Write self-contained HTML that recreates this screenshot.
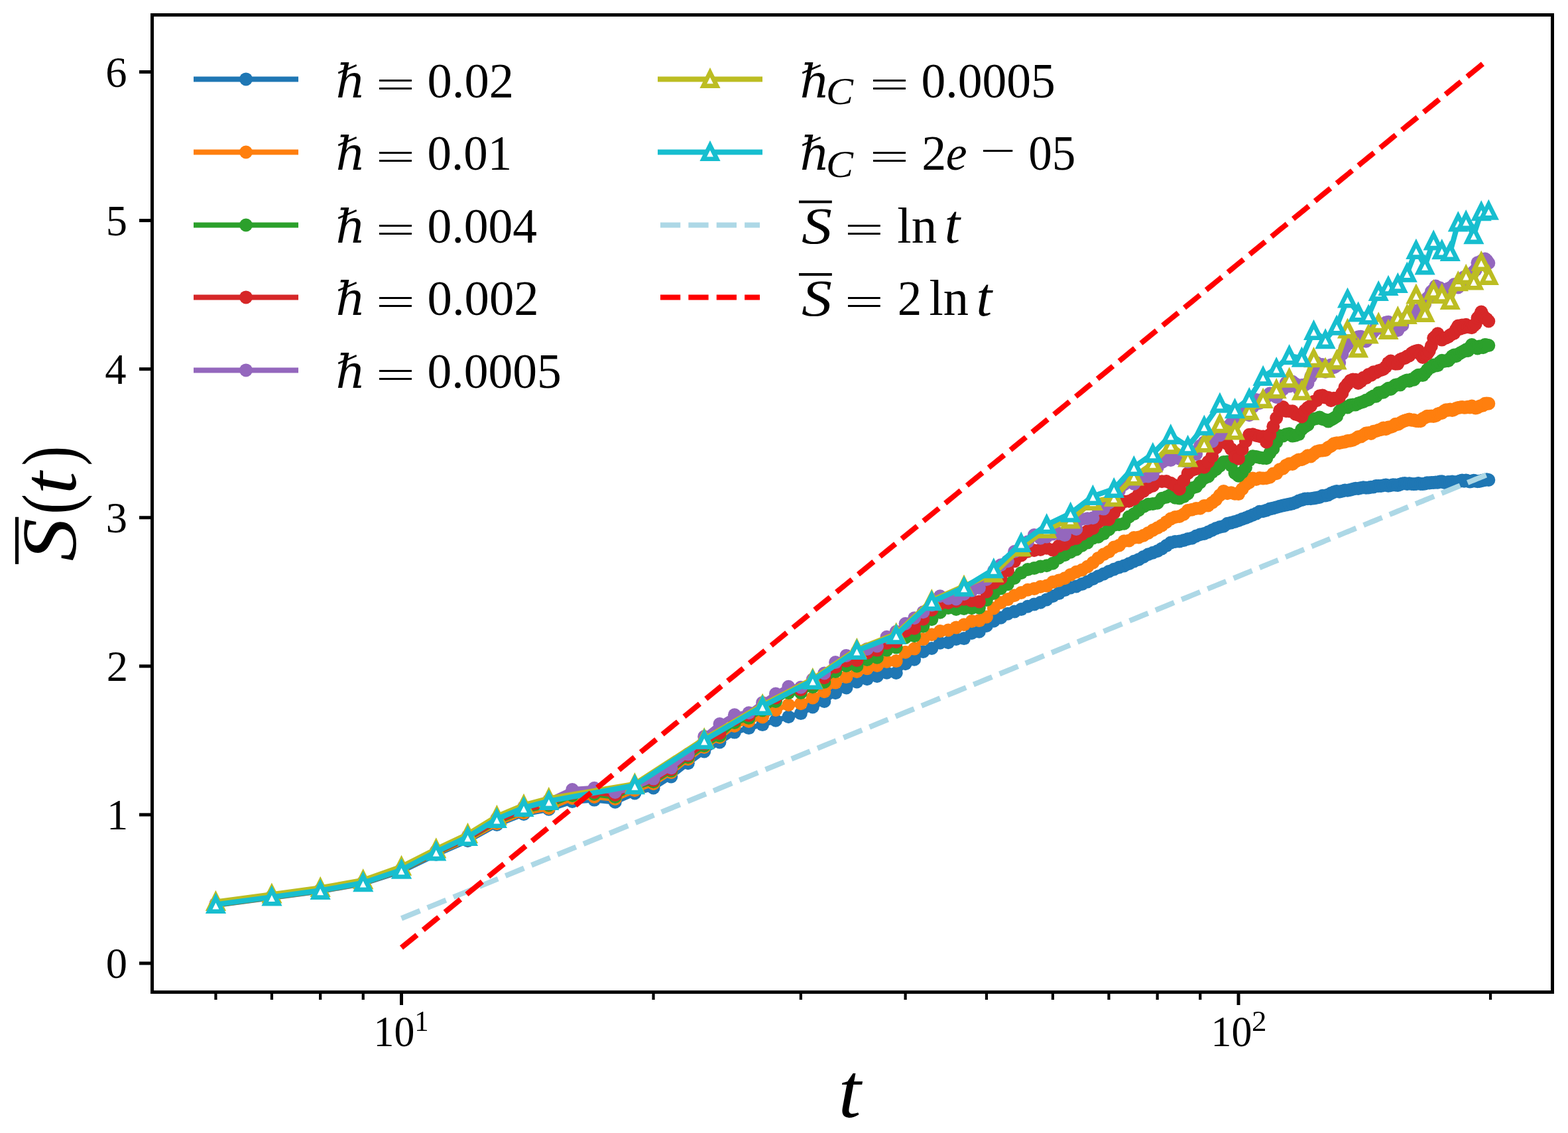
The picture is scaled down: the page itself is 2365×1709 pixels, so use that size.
<!DOCTYPE html>
<html><head><meta charset="utf-8"><title>S(t) vs t</title>
<style>html,body{margin:0;padding:0;background:#fff;width:2365px;height:1709px;overflow:hidden}svg{display:block}</style>
</head><body>
<svg width="2365" height="1709" viewBox="0 0 2365 1709">
<rect width="2365" height="1709" fill="#fff"/>
<g id="plot">
<polyline points="325.4,1365.4 409.9,1354.1 483.2,1344.3 547.7,1332.7 605.5,1314.2 657.8,1288.8 705.5,1268.2 749.4,1244.0 790.0,1227.9 827.8,1220.7 863.2,1208.9 896.4,1206.6 927.8,1209.7 957.4,1196.5 985.6,1188.4 1012.3,1171.4 1037.8,1151.3 1062.2,1133.5 1085.5,1119.4 1107.9,1104.6 1129.4,1098.1 1150.1,1093.1 1170.0,1086.8 1189.3,1081.2 1207.9,1076.1 1225.8,1066.5 1243.3,1058.0 1260.1,1045.2 1276.5,1037.5 1292.4,1028.5 1307.8,1024.3 1322.9,1020.0 1337.5,1014.7 1351.7,1014.9 1365.6,1001.3 1379.1,994.7 1392.4,983.0 1405.3,977.9 1417.9,969.8 1430.2,969.3 1442.2,963.9 1454.0,963.1 1465.6,955.0 1476.9,952.7 1487.9,944.0 1498.8,936.7 1509.5,931.7 1519.9,925.8 1530.1,922.6 1540.2,919.1 1550.1,914.8 1559.8,911.6 1569.3,908.7 1578.7,904.4 1587.9,899.2 1597.0,895.1 1605.9,890.1 1614.7,886.4 1623.3,884.4 1631.8,881.1 1640.2,877.5 1648.4,873.3 1656.5,869.2 1664.5,865.7 1672.4,862.0 1680.2,858.7 1687.9,855.7 1695.4,853.4 1702.9,850.2 1710.3,846.8 1717.5,843.9 1724.7,839.9 1731.8,836.3 1738.8,833.7 1745.7,831.3 1752.5,827.4 1759.2,823.1 1765.8,818.6 1772.4,817.1 1778.9,816.6 1785.3,815.1 1791.6,812.9 1797.9,811.7 1804.1,808.5 1810.2,806.2 1816.3,805.0 1822.3,802.5 1828.2,799.8 1834.1,796.9 1839.9,794.9 1845.6,793.8 1851.3,789.8 1856.9,788.5 1862.5,786.9 1868.0,785.2 1873.5,783.0 1878.9,781.3 1884.2,778.9 1889.5,776.8 1894.8,774.6 1899.9,771.7 1905.1,771.3 1910.2,769.8 1915.3,767.6 1920.3,766.5 1925.2,765.3 1930.1,763.8 1935.0,762.4 1939.8,761.5 1944.6,760.6 1949.4,759.5 1954.1,758.0 1958.8,755.5 1963.4,754.1 1968.0,752.6 1972.5,752.3 1977.0,752.2 1981.5,751.6 1985.9,750.8 1990.3,750.0 1994.7,747.8 1999.1,747.5 2003.4,746.5 2007.6,744.1 2011.9,742.2 2016.1,740.9 2020.2,741.8 2024.4,740.7 2028.5,739.5 2032.5,739.8 2036.6,739.0 2040.6,737.7 2044.6,736.8 2048.6,737.0 2052.5,735.9 2056.4,735.3 2060.3,735.8 2064.1,735.4 2067.9,734.7 2071.7,734.5 2075.5,733.1 2079.2,733.1 2083.0,733.0 2086.6,732.2 2090.3,731.4 2094.0,732.7 2097.6,732.3 2101.2,731.3 2104.7,731.6 2108.3,732.1 2111.8,730.4 2115.3,729.4 2118.8,729.0 2122.3,730.1 2125.7,729.2 2129.1,730.0 2132.5,730.2 2135.9,729.9 2139.2,728.9 2142.6,730.0 2145.9,730.1 2149.2,729.4 2152.5,728.2 2155.7,728.5 2158.9,727.9 2162.2,728.0 2165.4,727.4 2168.5,727.7 2171.7,726.4 2174.8,726.2 2178.0,727.7 2181.1,728.2 2184.2,727.0 2187.2,727.6 2190.3,726.6 2193.3,727.4 2196.3,727.4 2199.3,726.5 2202.3,725.6 2205.3,724.4 2208.3,725.8 2211.2,724.5 2214.1,725.6 2217.0,726.5 2219.9,726.0 2222.8,724.7 2225.7,725.6 2228.5,726.3 2231.3,726.0 2234.2,725.3 2237.0,724.5 2239.8,724.0 2242.5,723.3 2245.3,724.0" fill="none" stroke="#1f77b4" stroke-width="8" stroke-linejoin="round"/>
<g fill="#1f77b4"><circle cx="325.4" cy="1365.4" r="10.0"/><circle cx="409.9" cy="1354.1" r="10.0"/><circle cx="483.2" cy="1344.3" r="10.0"/><circle cx="547.7" cy="1332.7" r="10.0"/><circle cx="605.5" cy="1314.2" r="10.0"/><circle cx="657.8" cy="1288.8" r="10.0"/><circle cx="705.5" cy="1268.2" r="10.0"/><circle cx="749.4" cy="1244.0" r="10.0"/><circle cx="790.0" cy="1227.9" r="10.0"/><circle cx="827.8" cy="1220.7" r="10.0"/><circle cx="863.2" cy="1208.9" r="10.0"/><circle cx="896.4" cy="1206.6" r="10.0"/><circle cx="927.8" cy="1209.7" r="10.0"/><circle cx="957.4" cy="1196.5" r="10.0"/><circle cx="985.6" cy="1188.4" r="10.0"/><circle cx="1012.3" cy="1171.4" r="10.0"/><circle cx="1037.8" cy="1151.3" r="10.0"/><circle cx="1062.2" cy="1133.5" r="10.0"/><circle cx="1085.5" cy="1119.4" r="10.0"/><circle cx="1107.9" cy="1104.6" r="10.0"/><circle cx="1129.4" cy="1098.1" r="10.0"/><circle cx="1150.1" cy="1093.1" r="10.0"/><circle cx="1170.0" cy="1086.8" r="10.0"/><circle cx="1189.3" cy="1081.2" r="10.0"/><circle cx="1207.9" cy="1076.1" r="10.0"/><circle cx="1225.8" cy="1066.5" r="10.0"/><circle cx="1243.3" cy="1058.0" r="10.0"/><circle cx="1260.1" cy="1045.2" r="10.0"/><circle cx="1276.5" cy="1037.5" r="10.0"/><circle cx="1292.4" cy="1028.5" r="10.0"/><circle cx="1307.8" cy="1024.3" r="10.0"/><circle cx="1322.9" cy="1020.0" r="10.0"/><circle cx="1337.5" cy="1014.7" r="10.0"/><circle cx="1351.7" cy="1014.9" r="10.0"/><circle cx="1365.6" cy="1001.3" r="10.0"/><circle cx="1379.1" cy="994.7" r="10.0"/><circle cx="1392.4" cy="983.0" r="10.0"/><circle cx="1405.3" cy="977.9" r="10.0"/><circle cx="1417.9" cy="969.8" r="10.0"/><circle cx="1430.2" cy="969.3" r="10.0"/><circle cx="1442.2" cy="963.9" r="10.0"/><circle cx="1454.0" cy="963.1" r="10.0"/><circle cx="1465.6" cy="955.0" r="10.0"/><circle cx="1476.9" cy="952.7" r="10.0"/><circle cx="1487.9" cy="944.0" r="10.0"/><circle cx="1498.8" cy="936.7" r="10.0"/><circle cx="1509.5" cy="931.7" r="10.0"/><circle cx="1519.9" cy="925.8" r="10.0"/><circle cx="1530.1" cy="922.6" r="10.0"/><circle cx="1540.2" cy="919.1" r="10.0"/><circle cx="1550.1" cy="914.8" r="10.0"/><circle cx="1559.8" cy="911.6" r="10.0"/><circle cx="1569.3" cy="908.7" r="10.0"/><circle cx="1578.7" cy="904.4" r="10.0"/><circle cx="1587.9" cy="899.2" r="10.0"/><circle cx="1597.0" cy="895.1" r="10.0"/><circle cx="1605.9" cy="890.1" r="10.0"/><circle cx="1614.7" cy="886.4" r="10.0"/><circle cx="1623.3" cy="884.4" r="10.0"/><circle cx="1631.8" cy="881.1" r="10.0"/><circle cx="1640.2" cy="877.5" r="10.0"/><circle cx="1648.4" cy="873.3" r="10.0"/><circle cx="1656.5" cy="869.2" r="10.0"/><circle cx="1664.5" cy="865.7" r="10.0"/><circle cx="1672.4" cy="862.0" r="10.0"/><circle cx="1680.2" cy="858.7" r="10.0"/><circle cx="1687.9" cy="855.7" r="10.0"/><circle cx="1695.4" cy="853.4" r="10.0"/><circle cx="1702.9" cy="850.2" r="10.0"/><circle cx="1710.3" cy="846.8" r="10.0"/><circle cx="1717.5" cy="843.9" r="10.0"/><circle cx="1724.7" cy="839.9" r="10.0"/><circle cx="1731.8" cy="836.3" r="10.0"/><circle cx="1738.8" cy="833.7" r="10.0"/><circle cx="1745.7" cy="831.3" r="10.0"/><circle cx="1752.5" cy="827.4" r="10.0"/><circle cx="1759.2" cy="823.1" r="10.0"/><circle cx="1765.8" cy="818.6" r="10.0"/><circle cx="1772.4" cy="817.1" r="10.0"/><circle cx="1778.9" cy="816.6" r="10.0"/><circle cx="1785.3" cy="815.1" r="10.0"/><circle cx="1791.6" cy="812.9" r="10.0"/><circle cx="1797.9" cy="811.7" r="10.0"/><circle cx="1804.1" cy="808.5" r="10.0"/><circle cx="1810.2" cy="806.2" r="10.0"/><circle cx="1816.3" cy="805.0" r="10.0"/><circle cx="1822.3" cy="802.5" r="10.0"/><circle cx="1828.2" cy="799.8" r="10.0"/><circle cx="1834.1" cy="796.9" r="10.0"/><circle cx="1839.9" cy="794.9" r="10.0"/><circle cx="1845.6" cy="793.8" r="10.0"/><circle cx="1851.3" cy="789.8" r="10.0"/><circle cx="1856.9" cy="788.5" r="10.0"/><circle cx="1862.5" cy="786.9" r="10.0"/><circle cx="1868.0" cy="785.2" r="10.0"/><circle cx="1873.5" cy="783.0" r="10.0"/><circle cx="1878.9" cy="781.3" r="10.0"/><circle cx="1884.2" cy="778.9" r="10.0"/><circle cx="1889.5" cy="776.8" r="10.0"/><circle cx="1894.8" cy="774.6" r="10.0"/><circle cx="1899.9" cy="771.7" r="10.0"/><circle cx="1905.1" cy="771.3" r="10.0"/><circle cx="1910.2" cy="769.8" r="10.0"/><circle cx="1915.3" cy="767.6" r="10.0"/><circle cx="1920.3" cy="766.5" r="10.0"/><circle cx="1925.2" cy="765.3" r="10.0"/><circle cx="1930.1" cy="763.8" r="10.0"/><circle cx="1935.0" cy="762.4" r="10.0"/><circle cx="1939.8" cy="761.5" r="10.0"/><circle cx="1944.6" cy="760.6" r="10.0"/><circle cx="1949.4" cy="759.5" r="10.0"/><circle cx="1954.1" cy="758.0" r="10.0"/><circle cx="1958.8" cy="755.5" r="10.0"/><circle cx="1963.4" cy="754.1" r="10.0"/><circle cx="1968.0" cy="752.6" r="10.0"/><circle cx="1972.5" cy="752.3" r="10.0"/><circle cx="1977.0" cy="752.2" r="10.0"/><circle cx="1981.5" cy="751.6" r="10.0"/><circle cx="1985.9" cy="750.8" r="10.0"/><circle cx="1990.3" cy="750.0" r="10.0"/><circle cx="1994.7" cy="747.8" r="10.0"/><circle cx="1999.1" cy="747.5" r="10.0"/><circle cx="2003.4" cy="746.5" r="10.0"/><circle cx="2007.6" cy="744.1" r="10.0"/><circle cx="2011.9" cy="742.2" r="10.0"/><circle cx="2016.1" cy="740.9" r="10.0"/><circle cx="2020.2" cy="741.8" r="10.0"/><circle cx="2024.4" cy="740.7" r="10.0"/><circle cx="2028.5" cy="739.5" r="10.0"/><circle cx="2032.5" cy="739.8" r="10.0"/><circle cx="2036.6" cy="739.0" r="10.0"/><circle cx="2040.6" cy="737.7" r="10.0"/><circle cx="2044.6" cy="736.8" r="10.0"/><circle cx="2048.6" cy="737.0" r="10.0"/><circle cx="2052.5" cy="735.9" r="10.0"/><circle cx="2056.4" cy="735.3" r="10.0"/><circle cx="2060.3" cy="735.8" r="10.0"/><circle cx="2064.1" cy="735.4" r="10.0"/><circle cx="2067.9" cy="734.7" r="10.0"/><circle cx="2071.7" cy="734.5" r="10.0"/><circle cx="2075.5" cy="733.1" r="10.0"/><circle cx="2079.2" cy="733.1" r="10.0"/><circle cx="2083.0" cy="733.0" r="10.0"/><circle cx="2086.6" cy="732.2" r="10.0"/><circle cx="2090.3" cy="731.4" r="10.0"/><circle cx="2094.0" cy="732.7" r="10.0"/><circle cx="2097.6" cy="732.3" r="10.0"/><circle cx="2101.2" cy="731.3" r="10.0"/><circle cx="2104.7" cy="731.6" r="10.0"/><circle cx="2108.3" cy="732.1" r="10.0"/><circle cx="2111.8" cy="730.4" r="10.0"/><circle cx="2115.3" cy="729.4" r="10.0"/><circle cx="2118.8" cy="729.0" r="10.0"/><circle cx="2122.3" cy="730.1" r="10.0"/><circle cx="2125.7" cy="729.2" r="10.0"/><circle cx="2129.1" cy="730.0" r="10.0"/><circle cx="2132.5" cy="730.2" r="10.0"/><circle cx="2135.9" cy="729.9" r="10.0"/><circle cx="2139.2" cy="728.9" r="10.0"/><circle cx="2142.6" cy="730.0" r="10.0"/><circle cx="2145.9" cy="730.1" r="10.0"/><circle cx="2149.2" cy="729.4" r="10.0"/><circle cx="2152.5" cy="728.2" r="10.0"/><circle cx="2155.7" cy="728.5" r="10.0"/><circle cx="2158.9" cy="727.9" r="10.0"/><circle cx="2162.2" cy="728.0" r="10.0"/><circle cx="2165.4" cy="727.4" r="10.0"/><circle cx="2168.5" cy="727.7" r="10.0"/><circle cx="2171.7" cy="726.4" r="10.0"/><circle cx="2174.8" cy="726.2" r="10.0"/><circle cx="2178.0" cy="727.7" r="10.0"/><circle cx="2181.1" cy="728.2" r="10.0"/><circle cx="2184.2" cy="727.0" r="10.0"/><circle cx="2187.2" cy="727.6" r="10.0"/><circle cx="2190.3" cy="726.6" r="10.0"/><circle cx="2193.3" cy="727.4" r="10.0"/><circle cx="2196.3" cy="727.4" r="10.0"/><circle cx="2199.3" cy="726.5" r="10.0"/><circle cx="2202.3" cy="725.6" r="10.0"/><circle cx="2205.3" cy="724.4" r="10.0"/><circle cx="2208.3" cy="725.8" r="10.0"/><circle cx="2211.2" cy="724.5" r="10.0"/><circle cx="2214.1" cy="725.6" r="10.0"/><circle cx="2217.0" cy="726.5" r="10.0"/><circle cx="2219.9" cy="726.0" r="10.0"/><circle cx="2222.8" cy="724.7" r="10.0"/><circle cx="2225.7" cy="725.6" r="10.0"/><circle cx="2228.5" cy="726.3" r="10.0"/><circle cx="2231.3" cy="726.0" r="10.0"/><circle cx="2234.2" cy="725.3" r="10.0"/><circle cx="2237.0" cy="724.5" r="10.0"/><circle cx="2239.8" cy="724.0" r="10.0"/><circle cx="2242.5" cy="723.3" r="10.0"/><circle cx="2245.3" cy="724.0" r="10.0"/></g>
<polyline points="325.4,1364.9 409.9,1353.6 483.2,1343.8 547.7,1332.2 605.5,1312.7 657.8,1287.0 705.5,1266.4 749.4,1242.2 790.0,1226.1 827.8,1218.9 863.2,1204.0 896.4,1202.0 927.8,1205.0 957.4,1192.0 985.6,1182.0 1012.3,1165.0 1037.8,1144.9 1062.2,1127.0 1085.5,1112.0 1107.9,1094.9 1129.4,1087.9 1150.1,1081.5 1170.0,1070.9 1189.3,1063.2 1207.9,1061.3 1225.8,1052.5 1243.3,1043.3 1260.1,1029.6 1276.5,1021.1 1292.4,1013.0 1307.8,1008.3 1322.9,1003.9 1337.5,998.0 1351.7,997.1 1365.6,983.8 1379.1,978.6 1392.4,964.1 1405.3,957.2 1417.9,952.1 1430.2,950.5 1442.2,946.4 1454.0,942.3 1465.6,937.0 1476.9,936.1 1487.9,930.5 1498.8,917.5 1509.5,909.0 1519.9,904.1 1530.1,898.3 1540.2,894.0 1550.1,889.8 1559.8,888.1 1569.3,885.0 1578.7,883.6 1587.9,878.1 1597.0,875.4 1605.9,872.3 1614.7,866.9 1623.3,862.7 1631.8,859.8 1640.2,854.7 1648.4,848.7 1656.5,841.9 1664.5,836.2 1672.4,832.3 1680.2,825.5 1687.9,822.7 1695.4,816.2 1702.9,815.4 1710.3,811.1 1717.5,810.4 1724.7,807.7 1731.8,803.9 1738.8,799.7 1745.7,796.2 1752.5,792.4 1759.2,787.4 1765.8,782.6 1772.4,780.0 1778.9,779.0 1785.3,775.7 1791.6,770.0 1797.9,768.8 1804.1,767.1 1810.2,766.8 1816.3,762.9 1822.3,762.5 1828.2,758.2 1834.1,753.6 1839.9,746.9 1845.6,740.9 1851.3,744.3 1856.9,743.2 1862.5,744.8 1868.0,745.1 1873.5,737.7 1878.9,730.9 1884.2,727.6 1889.5,721.5 1894.8,723.0 1899.9,721.0 1905.1,721.5 1910.2,721.2 1915.3,719.7 1920.3,714.6 1925.2,714.2 1930.1,708.3 1935.0,706.7 1939.8,701.9 1944.6,699.6 1949.4,699.9 1954.1,696.2 1958.8,693.4 1963.4,693.2 1968.0,690.9 1972.5,687.2 1977.0,688.5 1981.5,684.7 1985.9,681.3 1990.3,679.9 1994.7,679.5 1999.1,679.0 2003.4,674.9 2007.6,672.7 2011.9,669.2 2016.1,668.3 2020.2,668.3 2024.4,667.2 2028.5,666.5 2032.5,665.0 2036.6,664.8 2040.6,663.7 2044.6,661.7 2048.6,659.0 2052.5,658.6 2056.4,656.3 2060.3,653.5 2064.1,653.0 2067.9,654.0 2071.7,650.7 2075.5,650.3 2079.2,648.7 2083.0,647.9 2086.6,645.4 2090.3,647.2 2094.0,644.6 2097.6,644.3 2101.2,642.8 2104.7,639.8 2108.3,640.1 2111.8,638.0 2115.3,636.0 2118.8,634.4 2122.3,633.6 2125.7,632.5 2129.1,633.8 2132.5,633.6 2135.9,635.1 2139.2,635.3 2142.6,635.3 2145.9,631.5 2149.2,629.9 2152.5,627.8 2155.7,627.8 2158.9,627.6 2162.2,627.9 2165.4,627.3 2168.5,624.6 2171.7,623.5 2174.8,623.0 2178.0,620.1 2181.1,618.3 2184.2,618.7 2187.2,617.4 2190.3,619.1 2193.3,617.6 2196.3,615.9 2199.3,615.1 2202.3,614.6 2205.3,614.0 2208.3,614.7 2211.2,614.6 2214.1,613.7 2217.0,614.4 2219.9,612.6 2222.8,614.5 2225.7,615.5 2228.5,614.8 2231.3,612.9 2234.2,611.9 2237.0,611.5 2239.8,608.7 2242.5,608.5 2245.3,608.7" fill="none" stroke="#ff7f0e" stroke-width="8" stroke-linejoin="round"/>
<g fill="#ff7f0e"><circle cx="325.4" cy="1364.9" r="10.0"/><circle cx="409.9" cy="1353.6" r="10.0"/><circle cx="483.2" cy="1343.8" r="10.0"/><circle cx="547.7" cy="1332.2" r="10.0"/><circle cx="605.5" cy="1312.7" r="10.0"/><circle cx="657.8" cy="1287.0" r="10.0"/><circle cx="705.5" cy="1266.4" r="10.0"/><circle cx="749.4" cy="1242.2" r="10.0"/><circle cx="790.0" cy="1226.1" r="10.0"/><circle cx="827.8" cy="1218.9" r="10.0"/><circle cx="863.2" cy="1204.0" r="10.0"/><circle cx="896.4" cy="1202.0" r="10.0"/><circle cx="927.8" cy="1205.0" r="10.0"/><circle cx="957.4" cy="1192.0" r="10.0"/><circle cx="985.6" cy="1182.0" r="10.0"/><circle cx="1012.3" cy="1165.0" r="10.0"/><circle cx="1037.8" cy="1144.9" r="10.0"/><circle cx="1062.2" cy="1127.0" r="10.0"/><circle cx="1085.5" cy="1112.0" r="10.0"/><circle cx="1107.9" cy="1094.9" r="10.0"/><circle cx="1129.4" cy="1087.9" r="10.0"/><circle cx="1150.1" cy="1081.5" r="10.0"/><circle cx="1170.0" cy="1070.9" r="10.0"/><circle cx="1189.3" cy="1063.2" r="10.0"/><circle cx="1207.9" cy="1061.3" r="10.0"/><circle cx="1225.8" cy="1052.5" r="10.0"/><circle cx="1243.3" cy="1043.3" r="10.0"/><circle cx="1260.1" cy="1029.6" r="10.0"/><circle cx="1276.5" cy="1021.1" r="10.0"/><circle cx="1292.4" cy="1013.0" r="10.0"/><circle cx="1307.8" cy="1008.3" r="10.0"/><circle cx="1322.9" cy="1003.9" r="10.0"/><circle cx="1337.5" cy="998.0" r="10.0"/><circle cx="1351.7" cy="997.1" r="10.0"/><circle cx="1365.6" cy="983.8" r="10.0"/><circle cx="1379.1" cy="978.6" r="10.0"/><circle cx="1392.4" cy="964.1" r="10.0"/><circle cx="1405.3" cy="957.2" r="10.0"/><circle cx="1417.9" cy="952.1" r="10.0"/><circle cx="1430.2" cy="950.5" r="10.0"/><circle cx="1442.2" cy="946.4" r="10.0"/><circle cx="1454.0" cy="942.3" r="10.0"/><circle cx="1465.6" cy="937.0" r="10.0"/><circle cx="1476.9" cy="936.1" r="10.0"/><circle cx="1487.9" cy="930.5" r="10.0"/><circle cx="1498.8" cy="917.5" r="10.0"/><circle cx="1509.5" cy="909.0" r="10.0"/><circle cx="1519.9" cy="904.1" r="10.0"/><circle cx="1530.1" cy="898.3" r="10.0"/><circle cx="1540.2" cy="894.0" r="10.0"/><circle cx="1550.1" cy="889.8" r="10.0"/><circle cx="1559.8" cy="888.1" r="10.0"/><circle cx="1569.3" cy="885.0" r="10.0"/><circle cx="1578.7" cy="883.6" r="10.0"/><circle cx="1587.9" cy="878.1" r="10.0"/><circle cx="1597.0" cy="875.4" r="10.0"/><circle cx="1605.9" cy="872.3" r="10.0"/><circle cx="1614.7" cy="866.9" r="10.0"/><circle cx="1623.3" cy="862.7" r="10.0"/><circle cx="1631.8" cy="859.8" r="10.0"/><circle cx="1640.2" cy="854.7" r="10.0"/><circle cx="1648.4" cy="848.7" r="10.0"/><circle cx="1656.5" cy="841.9" r="10.0"/><circle cx="1664.5" cy="836.2" r="10.0"/><circle cx="1672.4" cy="832.3" r="10.0"/><circle cx="1680.2" cy="825.5" r="10.0"/><circle cx="1687.9" cy="822.7" r="10.0"/><circle cx="1695.4" cy="816.2" r="10.0"/><circle cx="1702.9" cy="815.4" r="10.0"/><circle cx="1710.3" cy="811.1" r="10.0"/><circle cx="1717.5" cy="810.4" r="10.0"/><circle cx="1724.7" cy="807.7" r="10.0"/><circle cx="1731.8" cy="803.9" r="10.0"/><circle cx="1738.8" cy="799.7" r="10.0"/><circle cx="1745.7" cy="796.2" r="10.0"/><circle cx="1752.5" cy="792.4" r="10.0"/><circle cx="1759.2" cy="787.4" r="10.0"/><circle cx="1765.8" cy="782.6" r="10.0"/><circle cx="1772.4" cy="780.0" r="10.0"/><circle cx="1778.9" cy="779.0" r="10.0"/><circle cx="1785.3" cy="775.7" r="10.0"/><circle cx="1791.6" cy="770.0" r="10.0"/><circle cx="1797.9" cy="768.8" r="10.0"/><circle cx="1804.1" cy="767.1" r="10.0"/><circle cx="1810.2" cy="766.8" r="10.0"/><circle cx="1816.3" cy="762.9" r="10.0"/><circle cx="1822.3" cy="762.5" r="10.0"/><circle cx="1828.2" cy="758.2" r="10.0"/><circle cx="1834.1" cy="753.6" r="10.0"/><circle cx="1839.9" cy="746.9" r="10.0"/><circle cx="1845.6" cy="740.9" r="10.0"/><circle cx="1851.3" cy="744.3" r="10.0"/><circle cx="1856.9" cy="743.2" r="10.0"/><circle cx="1862.5" cy="744.8" r="10.0"/><circle cx="1868.0" cy="745.1" r="10.0"/><circle cx="1873.5" cy="737.7" r="10.0"/><circle cx="1878.9" cy="730.9" r="10.0"/><circle cx="1884.2" cy="727.6" r="10.0"/><circle cx="1889.5" cy="721.5" r="10.0"/><circle cx="1894.8" cy="723.0" r="10.0"/><circle cx="1899.9" cy="721.0" r="10.0"/><circle cx="1905.1" cy="721.5" r="10.0"/><circle cx="1910.2" cy="721.2" r="10.0"/><circle cx="1915.3" cy="719.7" r="10.0"/><circle cx="1920.3" cy="714.6" r="10.0"/><circle cx="1925.2" cy="714.2" r="10.0"/><circle cx="1930.1" cy="708.3" r="10.0"/><circle cx="1935.0" cy="706.7" r="10.0"/><circle cx="1939.8" cy="701.9" r="10.0"/><circle cx="1944.6" cy="699.6" r="10.0"/><circle cx="1949.4" cy="699.9" r="10.0"/><circle cx="1954.1" cy="696.2" r="10.0"/><circle cx="1958.8" cy="693.4" r="10.0"/><circle cx="1963.4" cy="693.2" r="10.0"/><circle cx="1968.0" cy="690.9" r="10.0"/><circle cx="1972.5" cy="687.2" r="10.0"/><circle cx="1977.0" cy="688.5" r="10.0"/><circle cx="1981.5" cy="684.7" r="10.0"/><circle cx="1985.9" cy="681.3" r="10.0"/><circle cx="1990.3" cy="679.9" r="10.0"/><circle cx="1994.7" cy="679.5" r="10.0"/><circle cx="1999.1" cy="679.0" r="10.0"/><circle cx="2003.4" cy="674.9" r="10.0"/><circle cx="2007.6" cy="672.7" r="10.0"/><circle cx="2011.9" cy="669.2" r="10.0"/><circle cx="2016.1" cy="668.3" r="10.0"/><circle cx="2020.2" cy="668.3" r="10.0"/><circle cx="2024.4" cy="667.2" r="10.0"/><circle cx="2028.5" cy="666.5" r="10.0"/><circle cx="2032.5" cy="665.0" r="10.0"/><circle cx="2036.6" cy="664.8" r="10.0"/><circle cx="2040.6" cy="663.7" r="10.0"/><circle cx="2044.6" cy="661.7" r="10.0"/><circle cx="2048.6" cy="659.0" r="10.0"/><circle cx="2052.5" cy="658.6" r="10.0"/><circle cx="2056.4" cy="656.3" r="10.0"/><circle cx="2060.3" cy="653.5" r="10.0"/><circle cx="2064.1" cy="653.0" r="10.0"/><circle cx="2067.9" cy="654.0" r="10.0"/><circle cx="2071.7" cy="650.7" r="10.0"/><circle cx="2075.5" cy="650.3" r="10.0"/><circle cx="2079.2" cy="648.7" r="10.0"/><circle cx="2083.0" cy="647.9" r="10.0"/><circle cx="2086.6" cy="645.4" r="10.0"/><circle cx="2090.3" cy="647.2" r="10.0"/><circle cx="2094.0" cy="644.6" r="10.0"/><circle cx="2097.6" cy="644.3" r="10.0"/><circle cx="2101.2" cy="642.8" r="10.0"/><circle cx="2104.7" cy="639.8" r="10.0"/><circle cx="2108.3" cy="640.1" r="10.0"/><circle cx="2111.8" cy="638.0" r="10.0"/><circle cx="2115.3" cy="636.0" r="10.0"/><circle cx="2118.8" cy="634.4" r="10.0"/><circle cx="2122.3" cy="633.6" r="10.0"/><circle cx="2125.7" cy="632.5" r="10.0"/><circle cx="2129.1" cy="633.8" r="10.0"/><circle cx="2132.5" cy="633.6" r="10.0"/><circle cx="2135.9" cy="635.1" r="10.0"/><circle cx="2139.2" cy="635.3" r="10.0"/><circle cx="2142.6" cy="635.3" r="10.0"/><circle cx="2145.9" cy="631.5" r="10.0"/><circle cx="2149.2" cy="629.9" r="10.0"/><circle cx="2152.5" cy="627.8" r="10.0"/><circle cx="2155.7" cy="627.8" r="10.0"/><circle cx="2158.9" cy="627.6" r="10.0"/><circle cx="2162.2" cy="627.9" r="10.0"/><circle cx="2165.4" cy="627.3" r="10.0"/><circle cx="2168.5" cy="624.6" r="10.0"/><circle cx="2171.7" cy="623.5" r="10.0"/><circle cx="2174.8" cy="623.0" r="10.0"/><circle cx="2178.0" cy="620.1" r="10.0"/><circle cx="2181.1" cy="618.3" r="10.0"/><circle cx="2184.2" cy="618.7" r="10.0"/><circle cx="2187.2" cy="617.4" r="10.0"/><circle cx="2190.3" cy="619.1" r="10.0"/><circle cx="2193.3" cy="617.6" r="10.0"/><circle cx="2196.3" cy="615.9" r="10.0"/><circle cx="2199.3" cy="615.1" r="10.0"/><circle cx="2202.3" cy="614.6" r="10.0"/><circle cx="2205.3" cy="614.0" r="10.0"/><circle cx="2208.3" cy="614.7" r="10.0"/><circle cx="2211.2" cy="614.6" r="10.0"/><circle cx="2214.1" cy="613.7" r="10.0"/><circle cx="2217.0" cy="614.4" r="10.0"/><circle cx="2219.9" cy="612.6" r="10.0"/><circle cx="2222.8" cy="614.5" r="10.0"/><circle cx="2225.7" cy="615.5" r="10.0"/><circle cx="2228.5" cy="614.8" r="10.0"/><circle cx="2231.3" cy="612.9" r="10.0"/><circle cx="2234.2" cy="611.9" r="10.0"/><circle cx="2237.0" cy="611.5" r="10.0"/><circle cx="2239.8" cy="608.7" r="10.0"/><circle cx="2242.5" cy="608.5" r="10.0"/><circle cx="2245.3" cy="608.7" r="10.0"/></g>
<polyline points="325.4,1364.7 409.9,1353.4 483.2,1343.6 547.7,1332.0 605.5,1312.5 657.8,1286.2 705.5,1264.9 749.4,1239.5 790.0,1223.1 827.8,1214.8 863.2,1200.0 896.4,1198.0 927.8,1202.0 957.4,1188.0 985.6,1179.2 1012.3,1162.7 1037.8,1142.2 1062.2,1125.0 1085.5,1110.0 1107.9,1090.0 1129.4,1083.1 1150.1,1071.5 1170.0,1058.0 1189.3,1045.1 1207.9,1044.9 1225.8,1036.3 1243.3,1028.7 1260.1,1013.0 1276.5,1004.2 1292.4,1004.7 1307.8,994.9 1322.9,991.7 1337.5,980.6 1351.7,976.4 1365.6,961.8 1379.1,959.2 1392.4,944.6 1405.3,934.2 1417.9,923.8 1430.2,917.1 1442.2,918.9 1454.0,917.9 1465.6,917.3 1476.9,916.7 1487.9,905.1 1498.8,894.9 1509.5,887.5 1519.9,881.3 1530.1,871.9 1540.2,864.2 1550.1,859.1 1559.8,857.1 1569.3,854.4 1578.7,853.2 1587.9,849.7 1597.0,841.4 1605.9,837.2 1614.7,832.8 1623.3,828.8 1631.8,822.9 1640.2,818.6 1648.4,811.6 1656.5,809.7 1664.5,805.1 1672.4,798.8 1680.2,792.1 1687.9,791.3 1695.4,789.8 1702.9,779.5 1710.3,775.3 1717.5,769.4 1724.7,764.1 1731.8,760.7 1738.8,760.1 1745.7,758.8 1752.5,751.8 1759.2,749.8 1765.8,746.4 1772.4,750.7 1778.9,751.6 1785.3,749.1 1791.6,744.5 1797.9,736.3 1804.1,734.2 1810.2,727.6 1816.3,721.1 1822.3,718.8 1828.2,712.3 1834.1,708.0 1839.9,702.6 1845.6,697.0 1851.3,696.5 1856.9,702.1 1862.5,713.5 1868.0,717.8 1873.5,712.4 1878.9,705.2 1884.2,694.3 1889.5,688.3 1894.8,688.9 1899.9,690.2 1905.1,690.9 1910.2,691.3 1915.3,683.3 1920.3,676.9 1925.2,667.0 1930.1,657.3 1935.0,657.6 1939.8,655.2 1944.6,654.2 1949.4,657.6 1954.1,656.7 1958.8,655.1 1963.4,647.5 1968.0,643.8 1972.5,640.9 1977.0,634.1 1981.5,632.0 1985.9,631.2 1990.3,629.4 1994.7,632.3 1999.1,633.3 2003.4,635.6 2007.6,633.1 2011.9,630.8 2016.1,628.0 2020.2,620.5 2024.4,615.0 2028.5,614.0 2032.5,614.5 2036.6,611.3 2040.6,610.4 2044.6,610.4 2048.6,608.5 2052.5,607.3 2056.4,605.9 2060.3,603.8 2064.1,603.0 2067.9,599.8 2071.7,597.6 2075.5,597.8 2079.2,592.5 2083.0,591.9 2086.6,591.7 2090.3,588.6 2094.0,585.7 2097.6,587.0 2101.2,583.6 2104.7,580.8 2108.3,580.1 2111.8,580.6 2115.3,576.7 2118.8,575.1 2122.3,573.4 2125.7,574.7 2129.1,572.3 2132.5,572.7 2135.9,568.1 2139.2,565.8 2142.6,565.6 2145.9,566.1 2149.2,562.6 2152.5,558.4 2155.7,554.5 2158.9,553.9 2162.2,550.6 2165.4,551.5 2168.5,551.3 2171.7,546.4 2174.8,543.7 2178.0,545.0 2181.1,544.2 2184.2,544.2 2187.2,540.9 2190.3,537.2 2193.3,535.6 2196.3,537.2 2199.3,534.4 2202.3,532.6 2205.3,531.0 2208.3,529.4 2211.2,527.6 2214.1,528.9 2217.0,524.3 2219.9,520.0 2222.8,522.7 2225.7,524.2 2228.5,525.4 2231.3,522.5 2234.2,523.8 2237.0,524.2 2239.8,519.9 2242.5,520.5 2245.3,521.1" fill="none" stroke="#2ca02c" stroke-width="8" stroke-linejoin="round"/>
<g fill="#2ca02c"><circle cx="325.4" cy="1364.7" r="10.0"/><circle cx="409.9" cy="1353.4" r="10.0"/><circle cx="483.2" cy="1343.6" r="10.0"/><circle cx="547.7" cy="1332.0" r="10.0"/><circle cx="605.5" cy="1312.5" r="10.0"/><circle cx="657.8" cy="1286.2" r="10.0"/><circle cx="705.5" cy="1264.9" r="10.0"/><circle cx="749.4" cy="1239.5" r="10.0"/><circle cx="790.0" cy="1223.1" r="10.0"/><circle cx="827.8" cy="1214.8" r="10.0"/><circle cx="863.2" cy="1200.0" r="10.0"/><circle cx="896.4" cy="1198.0" r="10.0"/><circle cx="927.8" cy="1202.0" r="10.0"/><circle cx="957.4" cy="1188.0" r="10.0"/><circle cx="985.6" cy="1179.2" r="10.0"/><circle cx="1012.3" cy="1162.7" r="10.0"/><circle cx="1037.8" cy="1142.2" r="10.0"/><circle cx="1062.2" cy="1125.0" r="10.0"/><circle cx="1085.5" cy="1110.0" r="10.0"/><circle cx="1107.9" cy="1090.0" r="10.0"/><circle cx="1129.4" cy="1083.1" r="10.0"/><circle cx="1150.1" cy="1071.5" r="10.0"/><circle cx="1170.0" cy="1058.0" r="10.0"/><circle cx="1189.3" cy="1045.1" r="10.0"/><circle cx="1207.9" cy="1044.9" r="10.0"/><circle cx="1225.8" cy="1036.3" r="10.0"/><circle cx="1243.3" cy="1028.7" r="10.0"/><circle cx="1260.1" cy="1013.0" r="10.0"/><circle cx="1276.5" cy="1004.2" r="10.0"/><circle cx="1292.4" cy="1004.7" r="10.0"/><circle cx="1307.8" cy="994.9" r="10.0"/><circle cx="1322.9" cy="991.7" r="10.0"/><circle cx="1337.5" cy="980.6" r="10.0"/><circle cx="1351.7" cy="976.4" r="10.0"/><circle cx="1365.6" cy="961.8" r="10.0"/><circle cx="1379.1" cy="959.2" r="10.0"/><circle cx="1392.4" cy="944.6" r="10.0"/><circle cx="1405.3" cy="934.2" r="10.0"/><circle cx="1417.9" cy="923.8" r="10.0"/><circle cx="1430.2" cy="917.1" r="10.0"/><circle cx="1442.2" cy="918.9" r="10.0"/><circle cx="1454.0" cy="917.9" r="10.0"/><circle cx="1465.6" cy="917.3" r="10.0"/><circle cx="1476.9" cy="916.7" r="10.0"/><circle cx="1487.9" cy="905.1" r="10.0"/><circle cx="1498.8" cy="894.9" r="10.0"/><circle cx="1509.5" cy="887.5" r="10.0"/><circle cx="1519.9" cy="881.3" r="10.0"/><circle cx="1530.1" cy="871.9" r="10.0"/><circle cx="1540.2" cy="864.2" r="10.0"/><circle cx="1550.1" cy="859.1" r="10.0"/><circle cx="1559.8" cy="857.1" r="10.0"/><circle cx="1569.3" cy="854.4" r="10.0"/><circle cx="1578.7" cy="853.2" r="10.0"/><circle cx="1587.9" cy="849.7" r="10.0"/><circle cx="1597.0" cy="841.4" r="10.0"/><circle cx="1605.9" cy="837.2" r="10.0"/><circle cx="1614.7" cy="832.8" r="10.0"/><circle cx="1623.3" cy="828.8" r="10.0"/><circle cx="1631.8" cy="822.9" r="10.0"/><circle cx="1640.2" cy="818.6" r="10.0"/><circle cx="1648.4" cy="811.6" r="10.0"/><circle cx="1656.5" cy="809.7" r="10.0"/><circle cx="1664.5" cy="805.1" r="10.0"/><circle cx="1672.4" cy="798.8" r="10.0"/><circle cx="1680.2" cy="792.1" r="10.0"/><circle cx="1687.9" cy="791.3" r="10.0"/><circle cx="1695.4" cy="789.8" r="10.0"/><circle cx="1702.9" cy="779.5" r="10.0"/><circle cx="1710.3" cy="775.3" r="10.0"/><circle cx="1717.5" cy="769.4" r="10.0"/><circle cx="1724.7" cy="764.1" r="10.0"/><circle cx="1731.8" cy="760.7" r="10.0"/><circle cx="1738.8" cy="760.1" r="10.0"/><circle cx="1745.7" cy="758.8" r="10.0"/><circle cx="1752.5" cy="751.8" r="10.0"/><circle cx="1759.2" cy="749.8" r="10.0"/><circle cx="1765.8" cy="746.4" r="10.0"/><circle cx="1772.4" cy="750.7" r="10.0"/><circle cx="1778.9" cy="751.6" r="10.0"/><circle cx="1785.3" cy="749.1" r="10.0"/><circle cx="1791.6" cy="744.5" r="10.0"/><circle cx="1797.9" cy="736.3" r="10.0"/><circle cx="1804.1" cy="734.2" r="10.0"/><circle cx="1810.2" cy="727.6" r="10.0"/><circle cx="1816.3" cy="721.1" r="10.0"/><circle cx="1822.3" cy="718.8" r="10.0"/><circle cx="1828.2" cy="712.3" r="10.0"/><circle cx="1834.1" cy="708.0" r="10.0"/><circle cx="1839.9" cy="702.6" r="10.0"/><circle cx="1845.6" cy="697.0" r="10.0"/><circle cx="1851.3" cy="696.5" r="10.0"/><circle cx="1856.9" cy="702.1" r="10.0"/><circle cx="1862.5" cy="713.5" r="10.0"/><circle cx="1868.0" cy="717.8" r="10.0"/><circle cx="1873.5" cy="712.4" r="10.0"/><circle cx="1878.9" cy="705.2" r="10.0"/><circle cx="1884.2" cy="694.3" r="10.0"/><circle cx="1889.5" cy="688.3" r="10.0"/><circle cx="1894.8" cy="688.9" r="10.0"/><circle cx="1899.9" cy="690.2" r="10.0"/><circle cx="1905.1" cy="690.9" r="10.0"/><circle cx="1910.2" cy="691.3" r="10.0"/><circle cx="1915.3" cy="683.3" r="10.0"/><circle cx="1920.3" cy="676.9" r="10.0"/><circle cx="1925.2" cy="667.0" r="10.0"/><circle cx="1930.1" cy="657.3" r="10.0"/><circle cx="1935.0" cy="657.6" r="10.0"/><circle cx="1939.8" cy="655.2" r="10.0"/><circle cx="1944.6" cy="654.2" r="10.0"/><circle cx="1949.4" cy="657.6" r="10.0"/><circle cx="1954.1" cy="656.7" r="10.0"/><circle cx="1958.8" cy="655.1" r="10.0"/><circle cx="1963.4" cy="647.5" r="10.0"/><circle cx="1968.0" cy="643.8" r="10.0"/><circle cx="1972.5" cy="640.9" r="10.0"/><circle cx="1977.0" cy="634.1" r="10.0"/><circle cx="1981.5" cy="632.0" r="10.0"/><circle cx="1985.9" cy="631.2" r="10.0"/><circle cx="1990.3" cy="629.4" r="10.0"/><circle cx="1994.7" cy="632.3" r="10.0"/><circle cx="1999.1" cy="633.3" r="10.0"/><circle cx="2003.4" cy="635.6" r="10.0"/><circle cx="2007.6" cy="633.1" r="10.0"/><circle cx="2011.9" cy="630.8" r="10.0"/><circle cx="2016.1" cy="628.0" r="10.0"/><circle cx="2020.2" cy="620.5" r="10.0"/><circle cx="2024.4" cy="615.0" r="10.0"/><circle cx="2028.5" cy="614.0" r="10.0"/><circle cx="2032.5" cy="614.5" r="10.0"/><circle cx="2036.6" cy="611.3" r="10.0"/><circle cx="2040.6" cy="610.4" r="10.0"/><circle cx="2044.6" cy="610.4" r="10.0"/><circle cx="2048.6" cy="608.5" r="10.0"/><circle cx="2052.5" cy="607.3" r="10.0"/><circle cx="2056.4" cy="605.9" r="10.0"/><circle cx="2060.3" cy="603.8" r="10.0"/><circle cx="2064.1" cy="603.0" r="10.0"/><circle cx="2067.9" cy="599.8" r="10.0"/><circle cx="2071.7" cy="597.6" r="10.0"/><circle cx="2075.5" cy="597.8" r="10.0"/><circle cx="2079.2" cy="592.5" r="10.0"/><circle cx="2083.0" cy="591.9" r="10.0"/><circle cx="2086.6" cy="591.7" r="10.0"/><circle cx="2090.3" cy="588.6" r="10.0"/><circle cx="2094.0" cy="585.7" r="10.0"/><circle cx="2097.6" cy="587.0" r="10.0"/><circle cx="2101.2" cy="583.6" r="10.0"/><circle cx="2104.7" cy="580.8" r="10.0"/><circle cx="2108.3" cy="580.1" r="10.0"/><circle cx="2111.8" cy="580.6" r="10.0"/><circle cx="2115.3" cy="576.7" r="10.0"/><circle cx="2118.8" cy="575.1" r="10.0"/><circle cx="2122.3" cy="573.4" r="10.0"/><circle cx="2125.7" cy="574.7" r="10.0"/><circle cx="2129.1" cy="572.3" r="10.0"/><circle cx="2132.5" cy="572.7" r="10.0"/><circle cx="2135.9" cy="568.1" r="10.0"/><circle cx="2139.2" cy="565.8" r="10.0"/><circle cx="2142.6" cy="565.6" r="10.0"/><circle cx="2145.9" cy="566.1" r="10.0"/><circle cx="2149.2" cy="562.6" r="10.0"/><circle cx="2152.5" cy="558.4" r="10.0"/><circle cx="2155.7" cy="554.5" r="10.0"/><circle cx="2158.9" cy="553.9" r="10.0"/><circle cx="2162.2" cy="550.6" r="10.0"/><circle cx="2165.4" cy="551.5" r="10.0"/><circle cx="2168.5" cy="551.3" r="10.0"/><circle cx="2171.7" cy="546.4" r="10.0"/><circle cx="2174.8" cy="543.7" r="10.0"/><circle cx="2178.0" cy="545.0" r="10.0"/><circle cx="2181.1" cy="544.2" r="10.0"/><circle cx="2184.2" cy="544.2" r="10.0"/><circle cx="2187.2" cy="540.9" r="10.0"/><circle cx="2190.3" cy="537.2" r="10.0"/><circle cx="2193.3" cy="535.6" r="10.0"/><circle cx="2196.3" cy="537.2" r="10.0"/><circle cx="2199.3" cy="534.4" r="10.0"/><circle cx="2202.3" cy="532.6" r="10.0"/><circle cx="2205.3" cy="531.0" r="10.0"/><circle cx="2208.3" cy="529.4" r="10.0"/><circle cx="2211.2" cy="527.6" r="10.0"/><circle cx="2214.1" cy="528.9" r="10.0"/><circle cx="2217.0" cy="524.3" r="10.0"/><circle cx="2219.9" cy="520.0" r="10.0"/><circle cx="2222.8" cy="522.7" r="10.0"/><circle cx="2225.7" cy="524.2" r="10.0"/><circle cx="2228.5" cy="525.4" r="10.0"/><circle cx="2231.3" cy="522.5" r="10.0"/><circle cx="2234.2" cy="523.8" r="10.0"/><circle cx="2237.0" cy="524.2" r="10.0"/><circle cx="2239.8" cy="519.9" r="10.0"/><circle cx="2242.5" cy="520.5" r="10.0"/><circle cx="2245.3" cy="521.1" r="10.0"/></g>
<polyline points="325.4,1364.4 409.9,1353.1 483.2,1343.3 547.7,1331.7 605.5,1312.2 657.8,1285.6 705.5,1264.0 749.4,1238.3 790.0,1221.7 827.8,1212.9 863.2,1197.0 896.4,1195.0 927.8,1199.0 957.4,1186.0 985.6,1176.9 1012.3,1160.4 1037.8,1139.4 1062.2,1122.0 1085.5,1106.0 1107.9,1086.0 1129.4,1078.9 1150.1,1064.0 1170.0,1052.6 1189.3,1040.0 1207.9,1040.3 1225.8,1030.9 1243.3,1022.3 1260.1,1006.1 1276.5,996.8 1292.4,996.0 1307.8,984.7 1322.9,980.6 1337.5,970.1 1351.7,967.9 1365.6,951.9 1379.1,947.7 1392.4,933.7 1405.3,920.0 1417.9,910.7 1430.2,909.2 1442.2,907.0 1454.0,903.8 1465.6,906.1 1476.9,907.4 1487.9,892.4 1498.8,879.2 1509.5,872.7 1519.9,860.4 1530.1,846.6 1540.2,837.8 1550.1,831.7 1559.8,830.2 1569.3,829.0 1578.7,826.8 1587.9,829.6 1597.0,823.6 1605.9,820.6 1614.7,814.1 1623.3,812.0 1631.8,806.0 1640.2,801.3 1648.4,796.9 1656.5,787.4 1664.5,783.6 1672.4,783.4 1680.2,773.8 1687.9,763.7 1695.4,756.5 1702.9,756.0 1710.3,752.4 1717.5,745.7 1724.7,741.0 1731.8,735.4 1738.8,732.8 1745.7,726.3 1752.5,726.3 1759.2,726.1 1765.8,728.7 1772.4,732.3 1778.9,737.8 1785.3,724.9 1791.6,714.0 1797.9,709.3 1804.1,707.3 1810.2,703.3 1816.3,704.7 1822.3,696.6 1828.2,688.3 1834.1,675.4 1839.9,663.5 1845.6,665.0 1851.3,669.7 1856.9,677.3 1862.5,689.1 1868.0,691.7 1873.5,677.7 1878.9,665.8 1884.2,655.8 1889.5,655.3 1894.8,656.9 1899.9,658.3 1905.1,658.5 1910.2,666.7 1915.3,655.8 1920.3,643.2 1925.2,630.6 1930.1,619.2 1935.0,613.9 1939.8,620.1 1944.6,620.2 1949.4,620.3 1954.1,624.8 1958.8,626.3 1963.4,628.5 1968.0,619.3 1972.5,615.1 1977.0,612.4 1981.5,605.7 1985.9,604.3 1990.3,597.2 1994.7,596.4 1999.1,599.5 2003.4,599.7 2007.6,604.3 2011.9,600.7 2016.1,601.0 2020.2,598.8 2024.4,592.9 2028.5,584.1 2032.5,579.1 2036.6,574.3 2040.6,572.6 2044.6,572.7 2048.6,578.0 2052.5,575.3 2056.4,569.7 2060.3,570.1 2064.1,565.1 2067.9,565.9 2071.7,561.2 2075.5,561.8 2079.2,559.3 2083.0,558.2 2086.6,556.7 2090.3,553.2 2094.0,547.4 2097.6,544.5 2101.2,547.5 2104.7,548.7 2108.3,548.6 2111.8,542.6 2115.3,540.9 2118.8,540.2 2122.3,537.6 2125.7,536.5 2129.1,532.7 2132.5,530.7 2135.9,529.6 2139.2,528.7 2142.6,534.5 2145.9,539.0 2149.2,535.5 2152.5,533.8 2155.7,529.5 2158.9,521.9 2162.2,510.0 2165.4,507.4 2168.5,503.2 2171.7,510.1 2174.8,512.6 2178.0,510.3 2181.1,509.4 2184.2,508.3 2187.2,505.6 2190.3,503.8 2193.3,502.6 2196.3,496.5 2199.3,491.6 2202.3,495.9 2205.3,490.6 2208.3,494.2 2211.2,489.7 2214.1,492.5 2217.0,493.4 2219.9,494.3 2222.8,491.3 2225.7,488.6 2228.5,479.7 2231.3,476.6 2234.2,470.6 2237.0,476.3 2239.8,479.5 2242.5,481.3 2245.3,484.5" fill="none" stroke="#d62728" stroke-width="8" stroke-linejoin="round"/>
<g fill="#d62728"><circle cx="325.4" cy="1364.4" r="10.0"/><circle cx="409.9" cy="1353.1" r="10.0"/><circle cx="483.2" cy="1343.3" r="10.0"/><circle cx="547.7" cy="1331.7" r="10.0"/><circle cx="605.5" cy="1312.2" r="10.0"/><circle cx="657.8" cy="1285.6" r="10.0"/><circle cx="705.5" cy="1264.0" r="10.0"/><circle cx="749.4" cy="1238.3" r="10.0"/><circle cx="790.0" cy="1221.7" r="10.0"/><circle cx="827.8" cy="1212.9" r="10.0"/><circle cx="863.2" cy="1197.0" r="10.0"/><circle cx="896.4" cy="1195.0" r="10.0"/><circle cx="927.8" cy="1199.0" r="10.0"/><circle cx="957.4" cy="1186.0" r="10.0"/><circle cx="985.6" cy="1176.9" r="10.0"/><circle cx="1012.3" cy="1160.4" r="10.0"/><circle cx="1037.8" cy="1139.4" r="10.0"/><circle cx="1062.2" cy="1122.0" r="10.0"/><circle cx="1085.5" cy="1106.0" r="10.0"/><circle cx="1107.9" cy="1086.0" r="10.0"/><circle cx="1129.4" cy="1078.9" r="10.0"/><circle cx="1150.1" cy="1064.0" r="10.0"/><circle cx="1170.0" cy="1052.6" r="10.0"/><circle cx="1189.3" cy="1040.0" r="10.0"/><circle cx="1207.9" cy="1040.3" r="10.0"/><circle cx="1225.8" cy="1030.9" r="10.0"/><circle cx="1243.3" cy="1022.3" r="10.0"/><circle cx="1260.1" cy="1006.1" r="10.0"/><circle cx="1276.5" cy="996.8" r="10.0"/><circle cx="1292.4" cy="996.0" r="10.0"/><circle cx="1307.8" cy="984.7" r="10.0"/><circle cx="1322.9" cy="980.6" r="10.0"/><circle cx="1337.5" cy="970.1" r="10.0"/><circle cx="1351.7" cy="967.9" r="10.0"/><circle cx="1365.6" cy="951.9" r="10.0"/><circle cx="1379.1" cy="947.7" r="10.0"/><circle cx="1392.4" cy="933.7" r="10.0"/><circle cx="1405.3" cy="920.0" r="10.0"/><circle cx="1417.9" cy="910.7" r="10.0"/><circle cx="1430.2" cy="909.2" r="10.0"/><circle cx="1442.2" cy="907.0" r="10.0"/><circle cx="1454.0" cy="903.8" r="10.0"/><circle cx="1465.6" cy="906.1" r="10.0"/><circle cx="1476.9" cy="907.4" r="10.0"/><circle cx="1487.9" cy="892.4" r="10.0"/><circle cx="1498.8" cy="879.2" r="10.0"/><circle cx="1509.5" cy="872.7" r="10.0"/><circle cx="1519.9" cy="860.4" r="10.0"/><circle cx="1530.1" cy="846.6" r="10.0"/><circle cx="1540.2" cy="837.8" r="10.0"/><circle cx="1550.1" cy="831.7" r="10.0"/><circle cx="1559.8" cy="830.2" r="10.0"/><circle cx="1569.3" cy="829.0" r="10.0"/><circle cx="1578.7" cy="826.8" r="10.0"/><circle cx="1587.9" cy="829.6" r="10.0"/><circle cx="1597.0" cy="823.6" r="10.0"/><circle cx="1605.9" cy="820.6" r="10.0"/><circle cx="1614.7" cy="814.1" r="10.0"/><circle cx="1623.3" cy="812.0" r="10.0"/><circle cx="1631.8" cy="806.0" r="10.0"/><circle cx="1640.2" cy="801.3" r="10.0"/><circle cx="1648.4" cy="796.9" r="10.0"/><circle cx="1656.5" cy="787.4" r="10.0"/><circle cx="1664.5" cy="783.6" r="10.0"/><circle cx="1672.4" cy="783.4" r="10.0"/><circle cx="1680.2" cy="773.8" r="10.0"/><circle cx="1687.9" cy="763.7" r="10.0"/><circle cx="1695.4" cy="756.5" r="10.0"/><circle cx="1702.9" cy="756.0" r="10.0"/><circle cx="1710.3" cy="752.4" r="10.0"/><circle cx="1717.5" cy="745.7" r="10.0"/><circle cx="1724.7" cy="741.0" r="10.0"/><circle cx="1731.8" cy="735.4" r="10.0"/><circle cx="1738.8" cy="732.8" r="10.0"/><circle cx="1745.7" cy="726.3" r="10.0"/><circle cx="1752.5" cy="726.3" r="10.0"/><circle cx="1759.2" cy="726.1" r="10.0"/><circle cx="1765.8" cy="728.7" r="10.0"/><circle cx="1772.4" cy="732.3" r="10.0"/><circle cx="1778.9" cy="737.8" r="10.0"/><circle cx="1785.3" cy="724.9" r="10.0"/><circle cx="1791.6" cy="714.0" r="10.0"/><circle cx="1797.9" cy="709.3" r="10.0"/><circle cx="1804.1" cy="707.3" r="10.0"/><circle cx="1810.2" cy="703.3" r="10.0"/><circle cx="1816.3" cy="704.7" r="10.0"/><circle cx="1822.3" cy="696.6" r="10.0"/><circle cx="1828.2" cy="688.3" r="10.0"/><circle cx="1834.1" cy="675.4" r="10.0"/><circle cx="1839.9" cy="663.5" r="10.0"/><circle cx="1845.6" cy="665.0" r="10.0"/><circle cx="1851.3" cy="669.7" r="10.0"/><circle cx="1856.9" cy="677.3" r="10.0"/><circle cx="1862.5" cy="689.1" r="10.0"/><circle cx="1868.0" cy="691.7" r="10.0"/><circle cx="1873.5" cy="677.7" r="10.0"/><circle cx="1878.9" cy="665.8" r="10.0"/><circle cx="1884.2" cy="655.8" r="10.0"/><circle cx="1889.5" cy="655.3" r="10.0"/><circle cx="1894.8" cy="656.9" r="10.0"/><circle cx="1899.9" cy="658.3" r="10.0"/><circle cx="1905.1" cy="658.5" r="10.0"/><circle cx="1910.2" cy="666.7" r="10.0"/><circle cx="1915.3" cy="655.8" r="10.0"/><circle cx="1920.3" cy="643.2" r="10.0"/><circle cx="1925.2" cy="630.6" r="10.0"/><circle cx="1930.1" cy="619.2" r="10.0"/><circle cx="1935.0" cy="613.9" r="10.0"/><circle cx="1939.8" cy="620.1" r="10.0"/><circle cx="1944.6" cy="620.2" r="10.0"/><circle cx="1949.4" cy="620.3" r="10.0"/><circle cx="1954.1" cy="624.8" r="10.0"/><circle cx="1958.8" cy="626.3" r="10.0"/><circle cx="1963.4" cy="628.5" r="10.0"/><circle cx="1968.0" cy="619.3" r="10.0"/><circle cx="1972.5" cy="615.1" r="10.0"/><circle cx="1977.0" cy="612.4" r="10.0"/><circle cx="1981.5" cy="605.7" r="10.0"/><circle cx="1985.9" cy="604.3" r="10.0"/><circle cx="1990.3" cy="597.2" r="10.0"/><circle cx="1994.7" cy="596.4" r="10.0"/><circle cx="1999.1" cy="599.5" r="10.0"/><circle cx="2003.4" cy="599.7" r="10.0"/><circle cx="2007.6" cy="604.3" r="10.0"/><circle cx="2011.9" cy="600.7" r="10.0"/><circle cx="2016.1" cy="601.0" r="10.0"/><circle cx="2020.2" cy="598.8" r="10.0"/><circle cx="2024.4" cy="592.9" r="10.0"/><circle cx="2028.5" cy="584.1" r="10.0"/><circle cx="2032.5" cy="579.1" r="10.0"/><circle cx="2036.6" cy="574.3" r="10.0"/><circle cx="2040.6" cy="572.6" r="10.0"/><circle cx="2044.6" cy="572.7" r="10.0"/><circle cx="2048.6" cy="578.0" r="10.0"/><circle cx="2052.5" cy="575.3" r="10.0"/><circle cx="2056.4" cy="569.7" r="10.0"/><circle cx="2060.3" cy="570.1" r="10.0"/><circle cx="2064.1" cy="565.1" r="10.0"/><circle cx="2067.9" cy="565.9" r="10.0"/><circle cx="2071.7" cy="561.2" r="10.0"/><circle cx="2075.5" cy="561.8" r="10.0"/><circle cx="2079.2" cy="559.3" r="10.0"/><circle cx="2083.0" cy="558.2" r="10.0"/><circle cx="2086.6" cy="556.7" r="10.0"/><circle cx="2090.3" cy="553.2" r="10.0"/><circle cx="2094.0" cy="547.4" r="10.0"/><circle cx="2097.6" cy="544.5" r="10.0"/><circle cx="2101.2" cy="547.5" r="10.0"/><circle cx="2104.7" cy="548.7" r="10.0"/><circle cx="2108.3" cy="548.6" r="10.0"/><circle cx="2111.8" cy="542.6" r="10.0"/><circle cx="2115.3" cy="540.9" r="10.0"/><circle cx="2118.8" cy="540.2" r="10.0"/><circle cx="2122.3" cy="537.6" r="10.0"/><circle cx="2125.7" cy="536.5" r="10.0"/><circle cx="2129.1" cy="532.7" r="10.0"/><circle cx="2132.5" cy="530.7" r="10.0"/><circle cx="2135.9" cy="529.6" r="10.0"/><circle cx="2139.2" cy="528.7" r="10.0"/><circle cx="2142.6" cy="534.5" r="10.0"/><circle cx="2145.9" cy="539.0" r="10.0"/><circle cx="2149.2" cy="535.5" r="10.0"/><circle cx="2152.5" cy="533.8" r="10.0"/><circle cx="2155.7" cy="529.5" r="10.0"/><circle cx="2158.9" cy="521.9" r="10.0"/><circle cx="2162.2" cy="510.0" r="10.0"/><circle cx="2165.4" cy="507.4" r="10.0"/><circle cx="2168.5" cy="503.2" r="10.0"/><circle cx="2171.7" cy="510.1" r="10.0"/><circle cx="2174.8" cy="512.6" r="10.0"/><circle cx="2178.0" cy="510.3" r="10.0"/><circle cx="2181.1" cy="509.4" r="10.0"/><circle cx="2184.2" cy="508.3" r="10.0"/><circle cx="2187.2" cy="505.6" r="10.0"/><circle cx="2190.3" cy="503.8" r="10.0"/><circle cx="2193.3" cy="502.6" r="10.0"/><circle cx="2196.3" cy="496.5" r="10.0"/><circle cx="2199.3" cy="491.6" r="10.0"/><circle cx="2202.3" cy="495.9" r="10.0"/><circle cx="2205.3" cy="490.6" r="10.0"/><circle cx="2208.3" cy="494.2" r="10.0"/><circle cx="2211.2" cy="489.7" r="10.0"/><circle cx="2214.1" cy="492.5" r="10.0"/><circle cx="2217.0" cy="493.4" r="10.0"/><circle cx="2219.9" cy="494.3" r="10.0"/><circle cx="2222.8" cy="491.3" r="10.0"/><circle cx="2225.7" cy="488.6" r="10.0"/><circle cx="2228.5" cy="479.7" r="10.0"/><circle cx="2231.3" cy="476.6" r="10.0"/><circle cx="2234.2" cy="470.6" r="10.0"/><circle cx="2237.0" cy="476.3" r="10.0"/><circle cx="2239.8" cy="479.5" r="10.0"/><circle cx="2242.5" cy="481.3" r="10.0"/><circle cx="2245.3" cy="484.5" r="10.0"/></g>
<polyline points="325.4,1363.4 409.9,1352.1 483.2,1342.3 547.7,1330.7 605.5,1311.2 657.8,1283.8 705.5,1261.4 749.4,1234.5 790.0,1217.4 827.8,1207.4 863.2,1191.0 896.4,1188.8 927.8,1195.0 957.4,1188.0 985.6,1174.6 1012.3,1158.2 1037.8,1137.6 1062.2,1111.0 1085.5,1092.0 1107.9,1078.3 1129.4,1075.2 1150.1,1059.9 1170.0,1046.6 1189.3,1035.8 1207.9,1036.7 1225.8,1024.8 1243.3,1015.5 1260.1,999.1 1276.5,988.9 1292.4,983.2 1307.8,978.9 1322.9,974.4 1337.5,960.8 1351.7,952.8 1365.6,940.7 1379.1,932.2 1392.4,923.2 1405.3,912.8 1417.9,899.3 1430.2,902.5 1442.2,903.5 1454.0,896.0 1465.6,890.9 1476.9,886.7 1487.9,874.0 1498.8,861.4 1509.5,852.3 1519.9,846.4 1530.1,832.1 1540.2,827.8 1550.1,817.3 1559.8,807.0 1569.3,811.7 1578.7,809.5 1587.9,805.4 1597.0,804.8 1605.9,807.1 1614.7,795.7 1623.3,798.0 1631.8,783.1 1640.2,782.2 1648.4,781.3 1656.5,767.0 1664.5,767.6 1672.4,758.5 1680.2,753.6 1687.9,740.2 1695.4,730.7 1702.9,724.7 1710.3,729.7 1717.5,719.2 1724.7,718.8 1731.8,718.4 1738.8,716.0 1745.7,704.9 1752.5,697.3 1759.2,693.7 1765.8,694.0 1772.4,686.7 1778.9,691.7 1785.3,695.1 1791.6,696.6 1797.9,682.1 1804.1,684.9 1810.2,672.5 1816.3,667.0 1822.3,665.0 1828.2,665.9 1834.1,656.0 1839.9,656.5 1845.6,651.3 1851.3,644.0 1856.9,638.8 1862.5,632.1 1868.0,624.8 1873.5,619.9 1878.9,623.0 1884.2,626.2 1889.5,613.7 1894.8,603.0 1899.9,607.9 1905.1,602.0 1910.2,598.5 1915.3,593.6 1920.3,595.4 1925.2,599.0 1930.1,592.8 1935.0,587.3 1939.8,577.5 1944.6,582.6 1949.4,575.8 1954.1,579.3 1958.8,586.5 1963.4,581.1 1968.0,580.8 1972.5,578.1 1977.0,568.4 1981.5,561.6 1985.9,547.2 1990.3,550.5 1994.7,549.9 1999.1,560.8 2003.4,554.6 2007.6,550.6 2011.9,554.2 2016.1,551.4 2020.2,547.1 2024.4,534.1 2028.5,524.3 2032.5,519.1 2036.6,512.9 2040.6,510.2 2044.6,511.0 2048.6,508.3 2052.5,507.7 2056.4,513.5 2060.3,514.8 2064.1,509.3 2067.9,504.8 2071.7,499.9 2075.5,493.3 2079.2,491.8 2083.0,494.9 2086.6,495.4 2090.3,486.6 2094.0,485.8 2097.6,488.6 2101.2,491.6 2104.7,494.2 2108.3,498.3 2111.8,492.7 2115.3,490.7 2118.8,481.9 2122.3,478.2 2125.7,478.3 2129.1,475.5 2132.5,468.4 2135.9,473.1 2139.2,470.8 2142.6,467.8 2145.9,457.5 2149.2,458.5 2152.5,450.1 2155.7,447.4 2158.9,439.8 2162.2,437.4 2165.4,431.6 2168.5,436.6 2171.7,434.3 2174.8,438.4 2178.0,443.1 2181.1,445.6 2184.2,435.5 2187.2,434.6 2190.3,432.4 2193.3,429.1 2196.3,432.1 2199.3,433.4 2202.3,427.8 2205.3,424.8 2208.3,417.9 2211.2,421.9 2214.1,422.9 2217.0,415.3 2219.9,412.5 2222.8,409.8 2225.7,407.1 2228.5,396.3 2231.3,397.4 2234.2,393.7 2237.0,392.1 2239.8,390.4 2242.5,392.9 2245.3,396.8" fill="none" stroke="#9467bd" stroke-width="8" stroke-linejoin="round"/>
<g fill="#9467bd"><circle cx="325.4" cy="1363.4" r="10.0"/><circle cx="409.9" cy="1352.1" r="10.0"/><circle cx="483.2" cy="1342.3" r="10.0"/><circle cx="547.7" cy="1330.7" r="10.0"/><circle cx="605.5" cy="1311.2" r="10.0"/><circle cx="657.8" cy="1283.8" r="10.0"/><circle cx="705.5" cy="1261.4" r="10.0"/><circle cx="749.4" cy="1234.5" r="10.0"/><circle cx="790.0" cy="1217.4" r="10.0"/><circle cx="827.8" cy="1207.4" r="10.0"/><circle cx="863.2" cy="1191.0" r="10.0"/><circle cx="896.4" cy="1188.8" r="10.0"/><circle cx="927.8" cy="1195.0" r="10.0"/><circle cx="957.4" cy="1188.0" r="10.0"/><circle cx="985.6" cy="1174.6" r="10.0"/><circle cx="1012.3" cy="1158.2" r="10.0"/><circle cx="1037.8" cy="1137.6" r="10.0"/><circle cx="1062.2" cy="1111.0" r="10.0"/><circle cx="1085.5" cy="1092.0" r="10.0"/><circle cx="1107.9" cy="1078.3" r="10.0"/><circle cx="1129.4" cy="1075.2" r="10.0"/><circle cx="1150.1" cy="1059.9" r="10.0"/><circle cx="1170.0" cy="1046.6" r="10.0"/><circle cx="1189.3" cy="1035.8" r="10.0"/><circle cx="1207.9" cy="1036.7" r="10.0"/><circle cx="1225.8" cy="1024.8" r="10.0"/><circle cx="1243.3" cy="1015.5" r="10.0"/><circle cx="1260.1" cy="999.1" r="10.0"/><circle cx="1276.5" cy="988.9" r="10.0"/><circle cx="1292.4" cy="983.2" r="10.0"/><circle cx="1307.8" cy="978.9" r="10.0"/><circle cx="1322.9" cy="974.4" r="10.0"/><circle cx="1337.5" cy="960.8" r="10.0"/><circle cx="1351.7" cy="952.8" r="10.0"/><circle cx="1365.6" cy="940.7" r="10.0"/><circle cx="1379.1" cy="932.2" r="10.0"/><circle cx="1392.4" cy="923.2" r="10.0"/><circle cx="1405.3" cy="912.8" r="10.0"/><circle cx="1417.9" cy="899.3" r="10.0"/><circle cx="1430.2" cy="902.5" r="10.0"/><circle cx="1442.2" cy="903.5" r="10.0"/><circle cx="1454.0" cy="896.0" r="10.0"/><circle cx="1465.6" cy="890.9" r="10.0"/><circle cx="1476.9" cy="886.7" r="10.0"/><circle cx="1487.9" cy="874.0" r="10.0"/><circle cx="1498.8" cy="861.4" r="10.0"/><circle cx="1509.5" cy="852.3" r="10.0"/><circle cx="1519.9" cy="846.4" r="10.0"/><circle cx="1530.1" cy="832.1" r="10.0"/><circle cx="1540.2" cy="827.8" r="10.0"/><circle cx="1550.1" cy="817.3" r="10.0"/><circle cx="1559.8" cy="807.0" r="10.0"/><circle cx="1569.3" cy="811.7" r="10.0"/><circle cx="1578.7" cy="809.5" r="10.0"/><circle cx="1587.9" cy="805.4" r="10.0"/><circle cx="1597.0" cy="804.8" r="10.0"/><circle cx="1605.9" cy="807.1" r="10.0"/><circle cx="1614.7" cy="795.7" r="10.0"/><circle cx="1623.3" cy="798.0" r="10.0"/><circle cx="1631.8" cy="783.1" r="10.0"/><circle cx="1640.2" cy="782.2" r="10.0"/><circle cx="1648.4" cy="781.3" r="10.0"/><circle cx="1656.5" cy="767.0" r="10.0"/><circle cx="1664.5" cy="767.6" r="10.0"/><circle cx="1672.4" cy="758.5" r="10.0"/><circle cx="1680.2" cy="753.6" r="10.0"/><circle cx="1687.9" cy="740.2" r="10.0"/><circle cx="1695.4" cy="730.7" r="10.0"/><circle cx="1702.9" cy="724.7" r="10.0"/><circle cx="1710.3" cy="729.7" r="10.0"/><circle cx="1717.5" cy="719.2" r="10.0"/><circle cx="1724.7" cy="718.8" r="10.0"/><circle cx="1731.8" cy="718.4" r="10.0"/><circle cx="1738.8" cy="716.0" r="10.0"/><circle cx="1745.7" cy="704.9" r="10.0"/><circle cx="1752.5" cy="697.3" r="10.0"/><circle cx="1759.2" cy="693.7" r="10.0"/><circle cx="1765.8" cy="694.0" r="10.0"/><circle cx="1772.4" cy="686.7" r="10.0"/><circle cx="1778.9" cy="691.7" r="10.0"/><circle cx="1785.3" cy="695.1" r="10.0"/><circle cx="1791.6" cy="696.6" r="10.0"/><circle cx="1797.9" cy="682.1" r="10.0"/><circle cx="1804.1" cy="684.9" r="10.0"/><circle cx="1810.2" cy="672.5" r="10.0"/><circle cx="1816.3" cy="667.0" r="10.0"/><circle cx="1822.3" cy="665.0" r="10.0"/><circle cx="1828.2" cy="665.9" r="10.0"/><circle cx="1834.1" cy="656.0" r="10.0"/><circle cx="1839.9" cy="656.5" r="10.0"/><circle cx="1845.6" cy="651.3" r="10.0"/><circle cx="1851.3" cy="644.0" r="10.0"/><circle cx="1856.9" cy="638.8" r="10.0"/><circle cx="1862.5" cy="632.1" r="10.0"/><circle cx="1868.0" cy="624.8" r="10.0"/><circle cx="1873.5" cy="619.9" r="10.0"/><circle cx="1878.9" cy="623.0" r="10.0"/><circle cx="1884.2" cy="626.2" r="10.0"/><circle cx="1889.5" cy="613.7" r="10.0"/><circle cx="1894.8" cy="603.0" r="10.0"/><circle cx="1899.9" cy="607.9" r="10.0"/><circle cx="1905.1" cy="602.0" r="10.0"/><circle cx="1910.2" cy="598.5" r="10.0"/><circle cx="1915.3" cy="593.6" r="10.0"/><circle cx="1920.3" cy="595.4" r="10.0"/><circle cx="1925.2" cy="599.0" r="10.0"/><circle cx="1930.1" cy="592.8" r="10.0"/><circle cx="1935.0" cy="587.3" r="10.0"/><circle cx="1939.8" cy="577.5" r="10.0"/><circle cx="1944.6" cy="582.6" r="10.0"/><circle cx="1949.4" cy="575.8" r="10.0"/><circle cx="1954.1" cy="579.3" r="10.0"/><circle cx="1958.8" cy="586.5" r="10.0"/><circle cx="1963.4" cy="581.1" r="10.0"/><circle cx="1968.0" cy="580.8" r="10.0"/><circle cx="1972.5" cy="578.1" r="10.0"/><circle cx="1977.0" cy="568.4" r="10.0"/><circle cx="1981.5" cy="561.6" r="10.0"/><circle cx="1985.9" cy="547.2" r="10.0"/><circle cx="1990.3" cy="550.5" r="10.0"/><circle cx="1994.7" cy="549.9" r="10.0"/><circle cx="1999.1" cy="560.8" r="10.0"/><circle cx="2003.4" cy="554.6" r="10.0"/><circle cx="2007.6" cy="550.6" r="10.0"/><circle cx="2011.9" cy="554.2" r="10.0"/><circle cx="2016.1" cy="551.4" r="10.0"/><circle cx="2020.2" cy="547.1" r="10.0"/><circle cx="2024.4" cy="534.1" r="10.0"/><circle cx="2028.5" cy="524.3" r="10.0"/><circle cx="2032.5" cy="519.1" r="10.0"/><circle cx="2036.6" cy="512.9" r="10.0"/><circle cx="2040.6" cy="510.2" r="10.0"/><circle cx="2044.6" cy="511.0" r="10.0"/><circle cx="2048.6" cy="508.3" r="10.0"/><circle cx="2052.5" cy="507.7" r="10.0"/><circle cx="2056.4" cy="513.5" r="10.0"/><circle cx="2060.3" cy="514.8" r="10.0"/><circle cx="2064.1" cy="509.3" r="10.0"/><circle cx="2067.9" cy="504.8" r="10.0"/><circle cx="2071.7" cy="499.9" r="10.0"/><circle cx="2075.5" cy="493.3" r="10.0"/><circle cx="2079.2" cy="491.8" r="10.0"/><circle cx="2083.0" cy="494.9" r="10.0"/><circle cx="2086.6" cy="495.4" r="10.0"/><circle cx="2090.3" cy="486.6" r="10.0"/><circle cx="2094.0" cy="485.8" r="10.0"/><circle cx="2097.6" cy="488.6" r="10.0"/><circle cx="2101.2" cy="491.6" r="10.0"/><circle cx="2104.7" cy="494.2" r="10.0"/><circle cx="2108.3" cy="498.3" r="10.0"/><circle cx="2111.8" cy="492.7" r="10.0"/><circle cx="2115.3" cy="490.7" r="10.0"/><circle cx="2118.8" cy="481.9" r="10.0"/><circle cx="2122.3" cy="478.2" r="10.0"/><circle cx="2125.7" cy="478.3" r="10.0"/><circle cx="2129.1" cy="475.5" r="10.0"/><circle cx="2132.5" cy="468.4" r="10.0"/><circle cx="2135.9" cy="473.1" r="10.0"/><circle cx="2139.2" cy="470.8" r="10.0"/><circle cx="2142.6" cy="467.8" r="10.0"/><circle cx="2145.9" cy="457.5" r="10.0"/><circle cx="2149.2" cy="458.5" r="10.0"/><circle cx="2152.5" cy="450.1" r="10.0"/><circle cx="2155.7" cy="447.4" r="10.0"/><circle cx="2158.9" cy="439.8" r="10.0"/><circle cx="2162.2" cy="437.4" r="10.0"/><circle cx="2165.4" cy="431.6" r="10.0"/><circle cx="2168.5" cy="436.6" r="10.0"/><circle cx="2171.7" cy="434.3" r="10.0"/><circle cx="2174.8" cy="438.4" r="10.0"/><circle cx="2178.0" cy="443.1" r="10.0"/><circle cx="2181.1" cy="445.6" r="10.0"/><circle cx="2184.2" cy="435.5" r="10.0"/><circle cx="2187.2" cy="434.6" r="10.0"/><circle cx="2190.3" cy="432.4" r="10.0"/><circle cx="2193.3" cy="429.1" r="10.0"/><circle cx="2196.3" cy="432.1" r="10.0"/><circle cx="2199.3" cy="433.4" r="10.0"/><circle cx="2202.3" cy="427.8" r="10.0"/><circle cx="2205.3" cy="424.8" r="10.0"/><circle cx="2208.3" cy="417.9" r="10.0"/><circle cx="2211.2" cy="421.9" r="10.0"/><circle cx="2214.1" cy="422.9" r="10.0"/><circle cx="2217.0" cy="415.3" r="10.0"/><circle cx="2219.9" cy="412.5" r="10.0"/><circle cx="2222.8" cy="409.8" r="10.0"/><circle cx="2225.7" cy="407.1" r="10.0"/><circle cx="2228.5" cy="396.3" r="10.0"/><circle cx="2231.3" cy="397.4" r="10.0"/><circle cx="2234.2" cy="393.7" r="10.0"/><circle cx="2237.0" cy="392.1" r="10.0"/><circle cx="2239.8" cy="390.4" r="10.0"/><circle cx="2242.5" cy="392.9" r="10.0"/><circle cx="2245.3" cy="396.8" r="10.0"/></g>
<polyline points="325.4,1360.4 409.9,1349.1 483.2,1339.3 547.7,1327.7 605.5,1307.2 657.8,1280.8 705.5,1258.4 749.4,1231.5 790.0,1214.4 827.8,1204.4 957.4,1182.7 1062.2,1114.7 1150.1,1063.5 1225.8,1024.4 1292.4,979.5 1351.7,956.3 1405.3,905.7 1454.0,884.2 1498.8,865.0 1540.2,826.0 1578.7,798.5 1614.7,783.9 1648.4,756.4 1680.2,750.7 1710.3,719.0 1738.8,698.9 1765.8,671.4 1791.6,690.9 1816.3,669.0 1839.9,639.7 1862.5,650.0 1884.2,620.1 1905.1,602.4 1925.2,587.8 1944.6,571.3 1963.4,590.2 1981.5,540.8 1999.1,556.1 2016.1,543.9 2032.5,497.0 2048.6,526.0 2064.1,505.0 2079.2,487.8 2094.0,498.4 2108.3,478.7 2122.3,475.3 2135.9,445.0 2149.2,472.5 2162.2,438.7 2174.8,444.4 2187.2,453.5 2199.3,425.7 2211.2,415.5 2222.8,424.0 2234.2,395.5 2245.3,416.3" fill="none" stroke="#bcbd22" stroke-width="8" stroke-linejoin="round"/>
<g fill="#fff" stroke="#bcbd22" stroke-width="6.6"><path d="M325.4,1350.2L335.7,1370.7L315.2,1370.7Z"/><path d="M409.9,1338.8L420.2,1359.3L399.7,1359.3Z"/><path d="M483.2,1329.1L493.4,1349.6L472.9,1349.6Z"/><path d="M547.7,1317.4L558.0,1337.9L537.5,1337.9Z"/><path d="M605.5,1297.0L615.8,1317.5L595.2,1317.5Z"/><path d="M657.8,1270.6L668.0,1291.1L647.5,1291.1Z"/><path d="M705.5,1248.2L715.7,1268.7L695.2,1268.7Z"/><path d="M749.4,1221.2L759.6,1241.7L739.1,1241.7Z"/><path d="M790.0,1204.2L800.2,1224.7L779.7,1224.7Z"/><path d="M827.8,1194.2L838.1,1214.7L817.6,1214.7Z"/><path d="M957.4,1172.5L967.7,1193.0L947.2,1193.0Z"/><path d="M1062.2,1104.5L1072.4,1125.0L1051.9,1125.0Z"/><path d="M1150.1,1053.2L1160.3,1073.8L1139.8,1073.8Z"/><path d="M1225.8,1014.2L1236.1,1034.7L1215.6,1034.7Z"/><path d="M1292.4,969.2L1302.6,989.8L1282.1,989.8Z"/><path d="M1351.7,946.0L1362.0,966.5L1341.5,966.5Z"/><path d="M1405.3,895.5L1415.5,916.0L1395.0,916.0Z"/><path d="M1454.0,874.0L1464.3,894.5L1443.8,894.5Z"/><path d="M1498.8,854.8L1509.1,875.2L1488.6,875.2Z"/><path d="M1540.2,815.8L1550.5,836.2L1530.0,836.2Z"/><path d="M1578.7,788.2L1589.0,808.8L1568.5,808.8Z"/><path d="M1614.7,773.6L1624.9,794.1L1604.4,794.1Z"/><path d="M1648.4,746.1L1658.7,766.6L1638.2,766.6Z"/><path d="M1680.2,740.5L1690.5,761.0L1670.0,761.0Z"/><path d="M1710.3,708.8L1720.5,729.2L1700.0,729.2Z"/><path d="M1738.8,688.6L1749.0,709.1L1728.5,709.1Z"/><path d="M1765.8,661.1L1776.1,681.6L1755.6,681.6Z"/><path d="M1791.6,680.6L1801.9,701.1L1781.4,701.1Z"/><path d="M1816.3,658.8L1826.5,679.2L1806.0,679.2Z"/><path d="M1839.9,629.5L1850.1,650.0L1829.6,650.0Z"/><path d="M1862.5,639.8L1872.7,660.2L1852.2,660.2Z"/><path d="M1884.2,609.9L1894.5,630.4L1874.0,630.4Z"/><path d="M1905.1,592.1L1915.3,612.6L1894.8,612.6Z"/><path d="M1925.2,577.5L1935.5,598.0L1915.0,598.0Z"/><path d="M1944.6,561.0L1954.9,581.5L1934.4,581.5Z"/><path d="M1963.4,580.0L1973.6,600.5L1953.1,600.5Z"/><path d="M1981.5,530.5L1991.8,551.0L1971.3,551.0Z"/><path d="M1999.1,545.9L2009.3,566.4L1988.8,566.4Z"/><path d="M2016.1,533.6L2026.3,554.1L2005.8,554.1Z"/><path d="M2032.5,486.8L2042.8,507.2L2022.3,507.2Z"/><path d="M2048.6,515.8L2058.8,536.2L2038.3,536.2Z"/><path d="M2064.1,494.8L2074.4,515.2L2053.9,515.2Z"/><path d="M2079.2,477.6L2089.5,498.1L2069.0,498.1Z"/><path d="M2094.0,488.1L2104.2,508.6L2083.7,508.6Z"/><path d="M2108.3,468.4L2118.5,488.9L2098.0,488.9Z"/><path d="M2122.3,465.1L2132.5,485.6L2112.0,485.6Z"/><path d="M2135.9,434.8L2146.1,455.2L2125.6,455.2Z"/><path d="M2149.2,462.2L2159.4,482.8L2138.9,482.8Z"/><path d="M2162.2,428.4L2172.4,448.9L2151.9,448.9Z"/><path d="M2174.8,434.1L2185.1,454.6L2164.6,454.6Z"/><path d="M2187.2,443.2L2197.5,463.8L2177.0,463.8Z"/><path d="M2199.3,415.4L2209.6,435.9L2189.1,435.9Z"/><path d="M2211.2,405.2L2221.5,425.8L2201.0,425.8Z"/><path d="M2222.8,413.8L2233.1,434.2L2212.6,434.2Z"/><path d="M2234.2,385.2L2244.4,405.8L2223.9,405.8Z"/><path d="M2245.3,406.1L2255.6,426.6L2235.1,426.6Z"/></g>
<polyline points="325.4,1364.4 409.9,1353.1 483.2,1343.3 547.7,1331.7 605.5,1312.2 657.8,1284.8 705.5,1262.4 749.4,1235.5 790.0,1218.4 827.8,1208.4 957.4,1184.7 1062.2,1116.7 1150.1,1065.5 1225.8,1026.4 1292.4,981.5 1351.7,958.3 1405.3,907.7 1454.0,886.2 1498.8,858.8 1540.2,819.5 1578.7,791.7 1614.7,774.3 1648.4,748.5 1680.2,737.5 1710.3,704.5 1738.8,684.4 1765.8,656.6 1791.6,673.4 1816.3,643.2 1839.9,609.2 1862.5,617.7 1884.2,601.4 1905.1,568.4 1925.2,555.6 1944.6,536.7 1963.4,540.3 1981.5,499.5 1999.1,512.6 2016.1,492.1 2032.5,451.0 2048.6,472.0 2064.1,476.0 2079.2,440.4 2094.0,432.3 2108.3,428.5 2122.3,412.1 2135.9,377.3 2149.2,400.9 2162.2,363.9 2174.8,377.6 2187.2,380.5 2199.3,335.9 2211.2,333.7 2222.8,354.6 2234.2,319.7 2245.3,318.2" fill="none" stroke="#17becf" stroke-width="8" stroke-linejoin="round"/>
<g fill="#fff" stroke="#17becf" stroke-width="6.6"><path d="M325.4,1354.2L335.7,1374.7L315.2,1374.7Z"/><path d="M409.9,1342.8L420.2,1363.3L399.7,1363.3Z"/><path d="M483.2,1333.1L493.4,1353.6L472.9,1353.6Z"/><path d="M547.7,1321.4L558.0,1341.9L537.5,1341.9Z"/><path d="M605.5,1302.0L615.8,1322.5L595.2,1322.5Z"/><path d="M657.8,1274.6L668.0,1295.1L647.5,1295.1Z"/><path d="M705.5,1252.2L715.7,1272.7L695.2,1272.7Z"/><path d="M749.4,1225.2L759.6,1245.7L739.1,1245.7Z"/><path d="M790.0,1208.2L800.2,1228.7L779.7,1228.7Z"/><path d="M827.8,1198.2L838.1,1218.7L817.6,1218.7Z"/><path d="M957.4,1174.5L967.7,1195.0L947.2,1195.0Z"/><path d="M1062.2,1106.5L1072.4,1127.0L1051.9,1127.0Z"/><path d="M1150.1,1055.2L1160.3,1075.8L1139.8,1075.8Z"/><path d="M1225.8,1016.2L1236.1,1036.7L1215.6,1036.7Z"/><path d="M1292.4,971.2L1302.6,991.8L1282.1,991.8Z"/><path d="M1351.7,948.0L1362.0,968.5L1341.5,968.5Z"/><path d="M1405.3,897.5L1415.5,918.0L1395.0,918.0Z"/><path d="M1454.0,876.0L1464.3,896.5L1443.8,896.5Z"/><path d="M1498.8,848.5L1509.1,869.0L1488.6,869.0Z"/><path d="M1540.2,809.2L1550.5,829.8L1530.0,829.8Z"/><path d="M1578.7,781.5L1589.0,802.0L1568.5,802.0Z"/><path d="M1614.7,764.0L1624.9,784.5L1604.4,784.5Z"/><path d="M1648.4,738.2L1658.7,758.8L1638.2,758.8Z"/><path d="M1680.2,727.2L1690.5,747.8L1670.0,747.8Z"/><path d="M1710.3,694.2L1720.5,714.8L1700.0,714.8Z"/><path d="M1738.8,674.1L1749.0,694.6L1728.5,694.6Z"/><path d="M1765.8,646.4L1776.1,666.9L1755.6,666.9Z"/><path d="M1791.6,663.1L1801.9,683.6L1781.4,683.6Z"/><path d="M1816.3,633.0L1826.5,653.5L1806.0,653.5Z"/><path d="M1839.9,599.0L1850.1,619.5L1829.6,619.5Z"/><path d="M1862.5,607.5L1872.7,628.0L1852.2,628.0Z"/><path d="M1884.2,591.1L1894.5,611.6L1874.0,611.6Z"/><path d="M1905.1,558.1L1915.3,578.6L1894.8,578.6Z"/><path d="M1925.2,545.4L1935.5,565.9L1915.0,565.9Z"/><path d="M1944.6,526.5L1954.9,547.0L1934.4,547.0Z"/><path d="M1963.4,530.0L1973.6,550.5L1953.1,550.5Z"/><path d="M1981.5,489.2L1991.8,509.8L1971.3,509.8Z"/><path d="M1999.1,502.4L2009.3,522.9L1988.8,522.9Z"/><path d="M2016.1,481.9L2026.3,502.4L2005.8,502.4Z"/><path d="M2032.5,440.8L2042.8,461.2L2022.3,461.2Z"/><path d="M2048.6,461.8L2058.8,482.2L2038.3,482.2Z"/><path d="M2064.1,465.8L2074.4,486.2L2053.9,486.2Z"/><path d="M2079.2,430.1L2089.5,450.6L2069.0,450.6Z"/><path d="M2094.0,422.1L2104.2,442.6L2083.7,442.6Z"/><path d="M2108.3,418.2L2118.5,438.8L2098.0,438.8Z"/><path d="M2122.3,401.9L2132.5,422.4L2112.0,422.4Z"/><path d="M2135.9,367.1L2146.1,387.6L2125.6,387.6Z"/><path d="M2149.2,390.6L2159.4,411.1L2138.9,411.1Z"/><path d="M2162.2,353.6L2172.4,374.1L2151.9,374.1Z"/><path d="M2174.8,367.4L2185.1,387.9L2164.6,387.9Z"/><path d="M2187.2,370.2L2197.5,390.8L2177.0,390.8Z"/><path d="M2199.3,325.6L2209.6,346.1L2189.1,346.1Z"/><path d="M2211.2,323.4L2221.5,343.9L2201.0,343.9Z"/><path d="M2222.8,344.4L2233.1,364.9L2212.6,364.9Z"/><path d="M2234.2,309.4L2244.4,329.9L2223.9,329.9Z"/><path d="M2245.3,307.9L2255.6,328.4L2235.1,328.4Z"/></g>
<polyline points="605.50,1385.20 657.76,1363.84 705.47,1344.34 749.35,1326.41 789.99,1309.80 827.82,1294.34 863.20,1279.88 896.44,1266.29 927.78,1253.49 957.43,1241.37 985.55,1229.88 1012.30,1218.94 1037.81,1208.52 1062.18,1198.56 1085.52,1189.02 1107.90,1179.87 1129.40,1171.09 1150.10,1162.63 1170.04,1154.48 1189.28,1146.62 1207.87,1139.02 1225.84,1131.67 1243.25,1124.56 1260.12,1117.66 1276.49,1110.97 1292.39,1104.48 1307.83,1098.17 1322.85,1092.03 1337.48,1086.05 1351.72,1080.23 1365.60,1074.56 1379.14,1069.02 1392.35,1063.62 1405.25,1058.35 1417.86,1053.20 1430.18,1048.16 1442.23,1043.24 1454.02,1038.42 1465.57,1033.70 1476.87,1029.08 1487.95,1024.55 1498.81,1020.12 1509.45,1015.77 1519.90,1011.50 1530.15,1007.31 1540.21,1003.20 1550.09,999.16 1559.79,995.19 1569.33,991.30 1578.70,987.47 1587.92,983.70 1596.98,980.00 1605.89,976.35 1614.67,972.77 1623.30,969.24 1631.80,965.76 1640.17,962.34 1648.42,958.97 1656.54,955.65 1664.55,952.38 1672.44,949.16 1680.21,945.98 1687.88,942.84 1695.45,939.75 1702.91,936.71 1710.26,933.70 1717.53,930.73 1724.69,927.80 1731.77,924.91 1738.75,922.05 1745.65,919.24 1752.46,916.45 1759.19,913.70 1765.84,910.99 1772.40,908.30 1778.89,905.65 1785.30,903.03 1791.64,900.44 1797.91,897.88 1804.10,895.35 1810.23,892.84 1816.29,890.37 1822.28,887.92 1828.21,885.50 1834.07,883.10 1839.88,880.73 1845.62,878.38 1851.30,876.06 1856.92,873.76 1862.49,871.49 1868.00,869.23 1873.46,867.00 1878.86,864.80 1884.21,862.61 1889.50,860.44 1894.75,858.30 1899.95,856.18 1905.10,854.07 1910.20,851.99 1915.25,849.92 1920.26,847.88 1925.22,845.85 1930.14,843.84 1935.01,841.85 1939.84,839.87 1944.63,837.92 1949.38,835.98 1954.08,834.05 1958.75,832.14 1963.38,830.25 1967.97,828.38 1972.52,826.52 1977.03,824.67 1981.51,822.85 1985.94,821.03 1990.35,819.23 1994.72,817.45 1999.05,815.67 2003.35,813.92 2007.62,812.17 2011.85,810.44 2016.06,808.73 2020.22,807.02 2024.36,805.33 2028.47,803.65 2032.55,801.99 2036.59,800.33 2040.61,798.69 2044.60,797.06 2048.56,795.44 2052.49,793.84 2056.39,792.24 2060.26,790.66 2064.11,789.09 2067.93,787.52 2071.73,785.97 2075.50,784.43 2079.24,782.90 2082.96,781.38 2086.65,779.88 2090.32,778.38 2093.96,776.89 2097.58,775.41 2101.17,773.94 2104.74,772.48 2108.29,771.03 2111.82,769.59 2115.32,768.16 2118.80,766.73 2122.26,765.32 2125.70,763.92 2129.12,762.52 2132.51,761.13 2135.89,759.75 2139.24,758.38 2142.57,757.02 2145.89,755.67 2149.18,754.32 2152.45,752.98 2155.71,751.65 2158.94,750.33 2162.16,749.02 2165.35,747.71 2168.53,746.41 2171.69,745.12 2174.84,743.83 2177.96,742.56 2181.07,741.29 2184.16,740.03 2187.23,738.77 2190.28,737.52 2193.32,736.28 2196.34,735.05 2199.34,733.82 2202.33,732.60 2205.30,731.38 2208.26,730.17 2211.20,728.97 2214.12,727.78 2217.03,726.59 2219.93,725.41 2222.80,724.23 2225.67,723.06 2228.52,721.90 2231.35,720.74 2234.17,719.59 2236.97,718.44 2239.76,717.30 2242.54,716.17 2245.30,715.04" fill="none" stroke="#add8e6" stroke-width="8.0" stroke-dasharray="30.25 12.12" stroke-linecap="butt"/><polyline points="605.50,1429.43 657.76,1386.72 705.47,1347.72 749.35,1311.85 789.99,1278.64 827.82,1247.72 863.20,1218.80 896.44,1191.63 927.78,1166.01 957.43,1141.78 985.55,1118.79 1012.30,1096.93 1037.81,1076.08 1062.18,1056.16 1085.52,1037.08 1107.90,1018.79 1129.40,1001.21 1150.10,984.30 1170.04,968.00 1189.28,952.27 1207.87,937.08 1225.84,922.38 1243.25,908.16 1260.12,894.37 1276.49,880.99 1292.39,868.00 1307.83,855.37 1322.85,843.09 1337.48,831.14 1351.72,819.50 1365.60,808.15 1379.14,797.09 1392.35,786.29 1405.25,775.74 1417.86,765.44 1430.18,755.37 1442.23,745.52 1454.02,735.88 1465.57,726.44 1476.87,717.20 1487.95,708.15 1498.81,699.27 1509.45,690.57 1519.90,682.03 1530.15,673.66 1540.21,665.43 1550.09,657.36 1559.79,649.43 1569.33,641.63 1578.70,633.97 1587.92,626.44 1596.98,619.03 1605.89,611.74 1614.67,604.57 1623.30,597.51 1631.80,590.57 1640.17,583.72 1648.42,576.98 1656.54,570.35 1664.55,563.80 1672.44,557.35 1680.21,551.00 1687.88,544.73 1695.45,538.55 1702.91,532.45 1710.26,526.43 1717.53,520.50 1724.69,514.64 1731.77,508.86 1738.75,503.15 1745.65,497.51 1752.46,491.94 1759.19,486.44 1765.84,481.01 1772.40,475.65 1778.89,470.34 1785.30,465.10 1791.64,459.92 1797.91,454.80 1804.10,449.73 1810.23,444.73 1816.29,439.77 1822.28,434.88 1828.21,430.03 1834.07,425.24 1839.88,420.49 1845.62,415.80 1851.30,411.16 1856.92,406.56 1862.49,402.01 1868.00,397.51 1873.46,393.05 1878.86,388.63 1884.21,384.26 1889.50,379.93 1894.75,375.64 1899.95,371.39 1905.10,367.19 1910.20,363.02 1915.25,358.89 1920.26,354.79 1925.22,350.74 1930.14,346.72 1935.01,342.73 1939.84,338.79 1944.63,334.87 1949.38,330.99 1954.08,327.14 1958.75,323.33 1963.38,319.55 1967.97,315.80 1972.52,312.08 1977.03,308.39 1981.51,304.73 1985.94,301.10 1990.35,297.50 1994.72,293.93 1999.05,290.39 2003.35,286.87 2007.62,283.39 2011.85,279.93 2016.06,276.49 2020.22,273.08 2024.36,269.70 2028.47,266.34 2032.55,263.01 2036.59,259.70 2040.61,256.42 2044.60,253.16 2048.56,249.93 2052.49,246.71 2056.39,243.52 2060.26,240.36 2064.11,237.21 2067.93,234.09 2071.73,230.99 2075.50,227.91 2079.24,224.85 2082.96,221.81 2086.65,218.79 2090.32,215.79 2093.96,212.82 2097.58,209.86 2101.17,206.92 2104.74,204.00 2108.29,201.10 2111.82,198.22 2115.32,195.35 2118.80,192.51 2122.26,189.68 2125.70,186.87 2129.12,184.08 2132.51,181.30 2135.89,178.54 2139.24,175.80 2142.57,173.08 2145.89,170.37 2149.18,167.68 2152.45,165.00 2155.71,162.34 2158.94,159.70 2162.16,157.07 2165.35,154.46 2168.53,151.86 2171.69,149.28 2174.84,146.71 2177.96,144.16 2181.07,141.62 2184.16,139.09 2187.23,136.58 2190.28,134.08 2193.32,131.60 2196.34,129.13 2199.34,126.68 2202.33,124.23 2205.30,121.81 2208.26,119.39 2211.20,116.99 2214.12,114.60 2217.03,112.22 2219.93,109.85 2222.80,107.50 2225.67,105.16 2228.52,102.83 2231.35,100.52 2234.17,98.21 2236.97,95.92 2239.76,93.64 2242.54,91.37 2245.30,89.11" fill="none" stroke="#ff0000" stroke-width="8.0" stroke-dasharray="30.25 12.12" stroke-linecap="butt"/>
</g>
<g id="axes">
<rect x="229.5" y="22.5" width="2112.0" height="1474.0" fill="none" stroke="#000" stroke-width="5" stroke-linejoin="miter"/><line x1="210" y1="1453.00" x2="229.5" y2="1453.00" stroke="#000" stroke-width="5"/><text x="159.71" y="1475.30" font-family="'Liberation Serif',serif" font-size="64.50">0</text><line x1="210" y1="1228.92" x2="229.5" y2="1228.92" stroke="#000" stroke-width="5"/><text x="161.12" y="1251.22" font-family="'Liberation Serif',serif" font-size="64.50">1</text><line x1="210" y1="1004.84" x2="229.5" y2="1004.84" stroke="#000" stroke-width="5"/><text x="160.81" y="1027.14" font-family="'Liberation Serif',serif" font-size="64.50">2</text><line x1="210" y1="780.76" x2="229.5" y2="780.76" stroke="#000" stroke-width="5"/><text x="159.77" y="803.06" font-family="'Liberation Serif',serif" font-size="64.50">3</text><line x1="210" y1="556.68" x2="229.5" y2="556.68" stroke="#000" stroke-width="5"/><text x="158.26" y="578.98" font-family="'Liberation Serif',serif" font-size="64.50">4</text><line x1="210" y1="332.60" x2="229.5" y2="332.60" stroke="#000" stroke-width="5"/><text x="159.77" y="354.90" font-family="'Liberation Serif',serif" font-size="64.50">5</text><line x1="210" y1="108.52" x2="229.5" y2="108.52" stroke="#000" stroke-width="5"/><text x="159.17" y="130.82" font-family="'Liberation Serif',serif" font-size="64.50">6</text><line x1="605.50" y1="1496.5" x2="605.50" y2="1516" stroke="#000" stroke-width="5"/><line x1="1868.00" y1="1496.5" x2="1868.00" y2="1516" stroke="#000" stroke-width="5"/><line x1="325.42" y1="1496.5" x2="325.42" y2="1508" stroke="#000" stroke-width="4.2"/><line x1="409.94" y1="1496.5" x2="409.94" y2="1508" stroke="#000" stroke-width="4.2"/><line x1="483.15" y1="1496.5" x2="483.15" y2="1508" stroke="#000" stroke-width="4.2"/><line x1="547.73" y1="1496.5" x2="547.73" y2="1508" stroke="#000" stroke-width="4.2"/><line x1="985.55" y1="1496.5" x2="985.55" y2="1508" stroke="#000" stroke-width="4.2"/><line x1="1207.87" y1="1496.5" x2="1207.87" y2="1508" stroke="#000" stroke-width="4.2"/><line x1="1365.60" y1="1496.5" x2="1365.60" y2="1508" stroke="#000" stroke-width="4.2"/><line x1="1487.95" y1="1496.5" x2="1487.95" y2="1508" stroke="#000" stroke-width="4.2"/><line x1="1587.92" y1="1496.5" x2="1587.92" y2="1508" stroke="#000" stroke-width="4.2"/><line x1="1672.44" y1="1496.5" x2="1672.44" y2="1508" stroke="#000" stroke-width="4.2"/><line x1="1745.65" y1="1496.5" x2="1745.65" y2="1508" stroke="#000" stroke-width="4.2"/><line x1="1810.23" y1="1496.5" x2="1810.23" y2="1508" stroke="#000" stroke-width="4.2"/><line x1="2248.05" y1="1496.5" x2="2248.05" y2="1508" stroke="#000" stroke-width="4.2"/><text x="563.57" y="1578.00" font-family="'Liberation Serif',serif" font-size="64.50" textLength="61.78" lengthAdjust="spacingAndGlyphs">10</text><text x="625.26" y="1555.00" font-family="'Liberation Serif',serif" font-size="43.93" textLength="21.30" lengthAdjust="spacingAndGlyphs">1</text><text x="1826.57" y="1578.00" font-family="'Liberation Serif',serif" font-size="64.50" textLength="61.78" lengthAdjust="spacingAndGlyphs">10</text><text x="1888.03" y="1555.00" font-family="'Liberation Serif',serif" font-size="43.80" textLength="22.45" lengthAdjust="spacingAndGlyphs">2</text><text x="1264.40" y="1684.70" font-family="'Liberation Serif',serif" font-style="italic" font-size="116.98" textLength="34.14" lengthAdjust="spacingAndGlyphs">t</text><g transform="translate(114.0,850.9) rotate(-90)"><text x="4.39" y="0.00" font-family="'Liberation Serif',serif" font-style="italic" font-size="116.00" textLength="64.60" lengthAdjust="spacingAndGlyphs">S</text><text x="75.06" y="0.00" font-family="'Liberation Serif',serif" font-size="116.00" textLength="30.60" lengthAdjust="spacingAndGlyphs">(</text><text x="105.75" y="0.00" font-family="'Liberation Serif',serif" font-style="italic" font-size="116.00" textLength="33.81" lengthAdjust="spacingAndGlyphs">t</text><text x="148.20" y="0.00" font-family="'Liberation Serif',serif" font-size="116.00" textLength="29.95" lengthAdjust="spacingAndGlyphs">)</text><rect x="0" y="-91.1" width="71.1" height="5.2" fill="#000"/></g>
</g>
<g id="legend">
<line x1="292" y1="119.40" x2="450" y2="119.40" stroke="#1f77b4" stroke-width="8.0"/><circle cx="371" cy="119.40" r="10" fill="#1f77b4"/><text x="506.43" y="146.80" font-family="'DejaVu Serif',serif" font-style="italic" font-size="69.63" textLength="44.86" lengthAdjust="spacingAndGlyphs">ℏ</text><text x="566.76" y="147.50" font-family="'Liberation Serif',serif" font-size="60.80" textLength="59.39" lengthAdjust="spacingAndGlyphs">=</text><text x="644.56" y="146.80" font-family="'Liberation Serif',serif" font-size="74.00" textLength="130.56" lengthAdjust="spacingAndGlyphs">0.02</text><line x1="292" y1="229.50" x2="450" y2="229.50" stroke="#ff7f0e" stroke-width="8.0"/><circle cx="371" cy="229.50" r="10" fill="#ff7f0e"/><text x="506.43" y="256.30" font-family="'DejaVu Serif',serif" font-style="italic" font-size="69.63" textLength="44.86" lengthAdjust="spacingAndGlyphs">ℏ</text><text x="566.76" y="257.00" font-family="'Liberation Serif',serif" font-size="60.80" textLength="59.39" lengthAdjust="spacingAndGlyphs">=</text><text x="644.62" y="256.30" font-family="'Liberation Serif',serif" font-size="74.00" textLength="127.55" lengthAdjust="spacingAndGlyphs">0.01</text><line x1="292" y1="339.50" x2="450" y2="339.50" stroke="#2ca02c" stroke-width="8.0"/><circle cx="371" cy="339.50" r="10" fill="#2ca02c"/><text x="506.43" y="365.80" font-family="'DejaVu Serif',serif" font-style="italic" font-size="69.63" textLength="44.86" lengthAdjust="spacingAndGlyphs">ℏ</text><text x="566.76" y="366.50" font-family="'Liberation Serif',serif" font-size="60.80" textLength="59.39" lengthAdjust="spacingAndGlyphs">=</text><text x="644.60" y="365.80" font-family="'Liberation Serif',serif" font-size="74.00" textLength="165.55" lengthAdjust="spacingAndGlyphs">0.004</text><line x1="292" y1="448.40" x2="450" y2="448.40" stroke="#d62728" stroke-width="8.0"/><circle cx="371" cy="448.40" r="10" fill="#d62728"/><text x="506.43" y="475.30" font-family="'DejaVu Serif',serif" font-style="italic" font-size="69.63" textLength="44.86" lengthAdjust="spacingAndGlyphs">ℏ</text><text x="566.76" y="476.00" font-family="'Liberation Serif',serif" font-size="60.80" textLength="59.39" lengthAdjust="spacingAndGlyphs">=</text><text x="644.56" y="475.30" font-family="'Liberation Serif',serif" font-size="74.00" textLength="168.07" lengthAdjust="spacingAndGlyphs">0.002</text><line x1="292" y1="558.40" x2="450" y2="558.40" stroke="#9467bd" stroke-width="8.0"/><circle cx="371" cy="558.40" r="10" fill="#9467bd"/><text x="506.43" y="584.80" font-family="'DejaVu Serif',serif" font-style="italic" font-size="69.63" textLength="44.86" lengthAdjust="spacingAndGlyphs">ℏ</text><text x="566.76" y="585.50" font-family="'Liberation Serif',serif" font-size="60.80" textLength="59.39" lengthAdjust="spacingAndGlyphs">=</text><text x="644.60" y="584.80" font-family="'Liberation Serif',serif" font-size="74.00" textLength="202.17" lengthAdjust="spacingAndGlyphs">0.0005</text><line x1="992" y1="119.40" x2="1150" y2="119.40" stroke="#bcbd22" stroke-width="8.0"/><path d="M1071,109.15 L1081.25,129.65 L1060.75,129.65 Z" fill="#fff" stroke="#bcbd22" stroke-width="6.6"/><text x="1206.43" y="146.80" font-family="'DejaVu Serif',serif" font-style="italic" font-size="69.63" textLength="44.86" lengthAdjust="spacingAndGlyphs">ℏ</text><text x="1246.08" y="157.30" font-family="'Liberation Serif',serif" font-style="italic" font-size="56.75" textLength="40.95" lengthAdjust="spacingAndGlyphs">C</text><text x="1311.76" y="147.50" font-family="'Liberation Serif',serif" font-size="60.80" textLength="59.39" lengthAdjust="spacingAndGlyphs">=</text><line x1="992" y1="229.50" x2="1150" y2="229.50" stroke="#17becf" stroke-width="8.0"/><path d="M1071,219.25 L1081.25,239.75 L1060.75,239.75 Z" fill="#fff" stroke="#17becf" stroke-width="6.6"/><text x="1206.43" y="256.30" font-family="'DejaVu Serif',serif" font-style="italic" font-size="69.63" textLength="44.86" lengthAdjust="spacingAndGlyphs">ℏ</text><text x="1246.08" y="266.80" font-family="'Liberation Serif',serif" font-style="italic" font-size="56.75" textLength="40.95" lengthAdjust="spacingAndGlyphs">C</text><text x="1311.76" y="257.00" font-family="'Liberation Serif',serif" font-size="60.80" textLength="59.39" lengthAdjust="spacingAndGlyphs">=</text><text x="1389.60" y="146.80" font-family="'Liberation Serif',serif" font-size="74.00" textLength="202.07" lengthAdjust="spacingAndGlyphs">0.0005</text><text x="1390.16" y="256.30" font-family="'Liberation Serif',serif" font-size="74.00" textLength="36.92" lengthAdjust="spacingAndGlyphs">2</text><text x="1426.80" y="256.30" font-family="'Liberation Serif',serif" font-style="italic" font-size="74.00" textLength="31.82" lengthAdjust="spacingAndGlyphs">e</text><text x="1478.26" y="247.70" font-family="'Liberation Serif',serif" font-size="60.80" textLength="53.69" lengthAdjust="spacingAndGlyphs">−</text><text x="1551.29" y="256.30" font-family="'Liberation Serif',serif" font-size="74.00" textLength="71.08" lengthAdjust="spacingAndGlyphs">05</text><line x1="996" y1="339.50" x2="1146" y2="339.50" stroke="#add8e6" stroke-width="8.0" stroke-dasharray="30.25 12.12"/><rect x="1205" y="302.50" width="49.8" height="3.9" fill="#000"/><text x="1208.93" y="366.60" font-family="'Liberation Serif',serif" font-style="italic" font-size="79.18" textLength="45.85" lengthAdjust="spacingAndGlyphs">S</text><text x="1273.78" y="366.50" font-family="'Liberation Serif',serif" font-size="60.80" textLength="59.14" lengthAdjust="spacingAndGlyphs">=</text><line x1="996" y1="448.40" x2="1146" y2="448.40" stroke="#ff0000" stroke-width="8.0" stroke-dasharray="30.25 12.12"/><rect x="1205" y="412.00" width="49.8" height="3.9" fill="#000"/><text x="1208.93" y="476.10" font-family="'Liberation Serif',serif" font-style="italic" font-size="79.18" textLength="45.85" lengthAdjust="spacingAndGlyphs">S</text><text x="1273.78" y="476.00" font-family="'Liberation Serif',serif" font-size="60.80" textLength="59.14" lengthAdjust="spacingAndGlyphs">=</text><text x="1353.26" y="365.80" font-family="'Liberation Serif',serif" font-size="75.38" textLength="59.91" lengthAdjust="spacingAndGlyphs">ln</text><text x="1424.71" y="366.20" font-family="'Liberation Serif',serif" font-style="italic" font-size="83.46" textLength="23.31" lengthAdjust="spacingAndGlyphs">t</text><text x="1353.79" y="475.30" font-family="'Liberation Serif',serif" font-size="74.00" textLength="36.54" lengthAdjust="spacingAndGlyphs">2</text><text x="1401.47" y="475.30" font-family="'Liberation Serif',serif" font-size="75.38" textLength="59.49" lengthAdjust="spacingAndGlyphs">ln</text><text x="1472.56" y="475.70" font-family="'Liberation Serif',serif" font-style="italic" font-size="83.46" textLength="23.64" lengthAdjust="spacingAndGlyphs">t</text>
</g>
</svg>
</body></html>
